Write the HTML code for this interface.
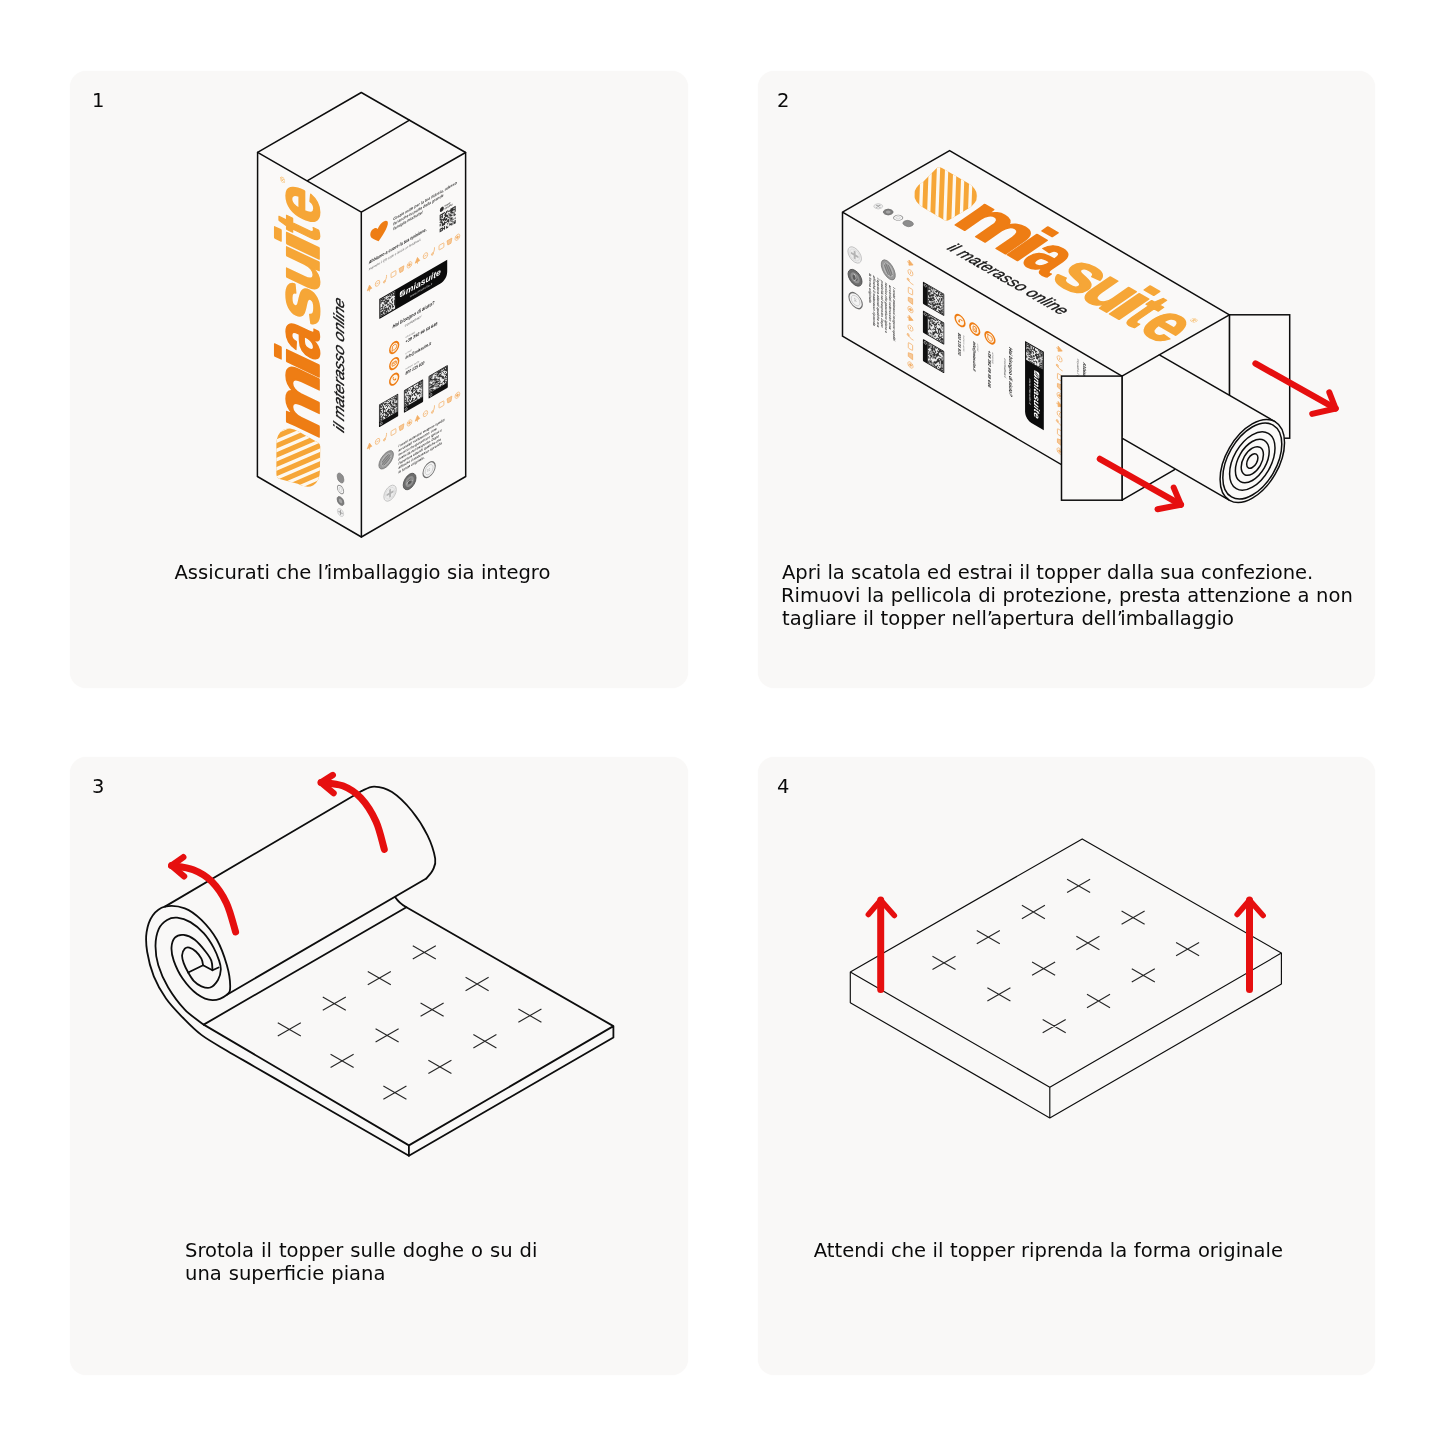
<!DOCTYPE html>
<html lang="it">
<head>
<meta charset="utf-8">
<title>Istruzioni topper</title>
<style>
html,body{margin:0;padding:0;background:#fff;}
body{will-change:transform;width:1445px;height:1445px;position:relative;overflow:hidden;font-family:"DejaVu Sans","Liberation Sans",sans-serif;color:#0a0a0a;}
.panel{position:absolute;width:617.5px;height:617.5px;background:#f9f8f7;border-radius:16px;box-shadow:0 0 1.5px 0 rgba(249,248,247,1);}
#p1{left:70px;top:70.5px;}
#p2{left:757.5px;top:70.5px;}
#p3{left:70px;top:757px;}
#p4{left:757.5px;top:757px;}
.num{position:absolute;font-size:19.5px;line-height:24px;}
.cap{position:absolute;font-size:19.55px;line-height:23.15px;white-space:nowrap;}
.ap{letter-spacing:-2.7px;}
svg#art{position:absolute;left:0;top:0;width:1445px;height:1445px;}
</style>
</head>
<body>
<div class="panel" id="p1"></div>
<div class="panel" id="p2"></div>
<div class="panel" id="p3"></div>
<div class="panel" id="p4"></div>

<div class="num" id="n1" style="left:92px;top:88.5px;">1</div>
<div class="num" id="n2" style="left:777px;top:88.5px;">2</div>
<div class="num" id="n3" style="left:92px;top:774.5px;">3</div>
<div class="num" id="n4" style="left:777px;top:774.5px;">4</div>

<div class="cap" id="c1" style="left:174.5px;top:560.5px;word-spacing:0.2px;">Assicurati che l<span class="ap">’</span>imballaggio sia integro</div>
<div class="cap" id="c2" style="left:782px;top:560.5px;">Apri la scatola ed estrai il topper dalla sua confezione.<br><span style="word-spacing:0.34px;margin-left:-1px">Rimuovi la pellicola di protezione, presta attenzione a non</span><br><span style="word-spacing:0.4px">tagliare il topper nell<span class="ap">’</span>apertura dell<span class="ap">’</span>imballaggio</span></div>
<div class="cap" id="c3" style="left:185px;top:1238.5px;word-spacing:0.83px;">Srotola il topper sulle doghe o su di<br>una superficie piana</div>
<div class="cap" id="c4" style="left:813.8px;top:1238.5px;word-spacing:0.36px;">Attendi che il topper riprenda la forma originale</div>

<svg id="art" viewBox="0 0 1445 1445">
<g id="box1">
<polygon points="361.3,92.5 465.6,152.5 465.7,476.5 361.4,537 257.4,476.5 257.6,152.3" fill="#faf9f8"/>
<g transform="matrix(0 -1 0.866 0.5 257.4 476.5)"><clipPath id="ic1"><path d="M13.6 21.9L43 21.9A25.8 25.8 0 0 1 68.8 47.5L69 69.6Q69.1 72.6 66.2 72.6L42 72.2A26 26 0 0 1 16 46.5L10.2 25.6Q9.5 21.9 13.6 21.9Z"/></clipPath><path d="M13.6 21.9L43 21.9A25.8 25.8 0 0 1 68.8 47.5L69 69.6Q69.1 72.6 66.2 72.6L42 72.2A26 26 0 0 1 16 46.5L10.2 25.6Q9.5 21.9 13.6 21.9Z" fill="#f6a637"/><path d="M-52.29 15L4.39 80M-43.04 15L13.64 80M-33.79 15L22.89 80M-24.54 15L32.14 80M-15.29 15L41.39 80M-6.04 15L50.64 80M3.21 15L59.89 80M12.46 15L69.14 80M21.71 15L78.39 80M30.96 15L87.64 80M40.21 15L96.89 80M49.46 15L106.14 80M58.71 15L115.39 80M67.96 15L124.64 80" stroke="#fdf8ef" stroke-width="2.7" fill="none" clip-path="url(#ic1)"/><g transform="translate(0 70.8) skewX(5.1)"><text y="0" font-family="Liberation Sans, Arial, sans-serif" font-weight="700" font-size="70.5" stroke-width="1.9" stroke-linejoin="round"><tspan x="69.8" textLength="67.6" lengthAdjust="spacingAndGlyphs" fill="#ee7d14" stroke="#ee7d14">m</tspan><tspan x="129.7" textLength="22.7" lengthAdjust="spacingAndGlyphs" fill="#ee7d14" stroke="#ee7d14">i</tspan><tspan x="148.7" textLength="31.2" lengthAdjust="spacingAndGlyphs" fill="#ee7d14" stroke="#ee7d14">a</tspan><tspan x="182.5" textLength="37.5" lengthAdjust="spacingAndGlyphs" fill="#f6a637" stroke="#f6a637">s</tspan><tspan x="215.9" textLength="38" lengthAdjust="spacingAndGlyphs" fill="#f6a637" stroke="#f6a637">u</tspan><tspan x="247.9" textLength="21.3" lengthAdjust="spacingAndGlyphs" fill="#f6a637" stroke="#f6a637">i</tspan><tspan x="266.7" textLength="15.4" lengthAdjust="spacingAndGlyphs" fill="#f6a637" stroke="#f6a637">t</tspan><tspan x="283.5" textLength="32.7" lengthAdjust="spacingAndGlyphs" fill="#f6a637" stroke="#f6a637">e</tspan></text></g><text x="308" y="31.5" font-family="Liberation Sans, sans-serif" font-size="8" fill="#f6a637">®</text><g transform="translate(93.3 100.3) skewX(4)"><text x="0" y="0" font-family="Liberation Sans, Arial, sans-serif" font-style="italic" font-size="17.3" fill="#161616" stroke="#161616" stroke-width="0.35" textLength="133" lengthAdjust="spacingAndGlyphs">il materasso online</text></g><g stroke-width="0.6" transform="translate(0 0)"><circle cx="12" cy="96" r="3.6" fill="#ededed" stroke="#bdbdbd"/><path d="M9.6 96h4.8M12 93.6v4.8" stroke="#9a9a9a" stroke-width="1"/><circle cx="23.5" cy="96" r="4" fill="#7d7d7d" stroke="#666"/><circle cx="23.5" cy="96" r="2" fill="#a5a5a5" stroke="none"/><circle cx="35" cy="96" r="3.7" fill="#f6f6f6" stroke="#8f8f8f" stroke-width="0.9"/><circle cx="35" cy="96" r="1.7" fill="none" stroke="#bbb" stroke-width="0.5"/><ellipse cx="46.5" cy="96" rx="4.6" ry="3.9" fill="#8d8d8d" stroke="#777"/></g></g>
<g transform="matrix(0.866 -0.5 0 1 361.3 212.2)"><path d="M20 39C14 34 9.5 30.5 10.5 26.5C11.5 22.8 16.5 22.6 19 26.2C21 22 27.8 20.6 30.2 24.2C32.6 28.4 26.5 34.5 20 39Z" fill="#ee7d14"/><text font-family="Liberation Sans, Arial, sans-serif" font-style="italic" font-size="4.1" font-weight="700" fill="#3c3c3c"><tspan x="37" y="26.8" textLength="73.5" lengthAdjust="spacingAndGlyphs">Grazie mille per la tua fiducia, adesso</tspan><tspan x="37" y="31.7" textLength="58" lengthAdjust="spacingAndGlyphs">fai anche tu parte della grande</tspan><tspan x="37" y="36.6" textLength="34" lengthAdjust="spacingAndGlyphs">famiglia miaSuite!</tspan></text><circle cx="93" cy="43.6" r="2.3" fill="#2b2b2b"/><text x="96.2" y="43" font-family="Liberation Sans, Arial, sans-serif" font-size="2.4" font-weight="700" fill="#2b2b2b">SHOP</text><text x="96.2" y="45.6" font-family="Liberation Sans, Arial, sans-serif" font-size="2.4" font-weight="700" fill="#2b2b2b">SICURO</text><rect x="90.5" y="48" width="18.5" height="17.5" fill="#ececec"/><path d="M90.5 48h1.23v1.17h-1.23zM91.73 48h1.23v1.17h-1.23zM92.97 48h1.23v1.17h-1.23zM94.2 48h1.23v1.17h-1.23zM95.43 48h1.23v1.17h-1.23zM97.9 48h1.23v1.17h-1.23zM99.13 48h1.23v1.17h-1.23zM102.83 48h1.23v1.17h-1.23zM104.07 48h1.23v1.17h-1.23zM105.3 48h1.23v1.17h-1.23zM106.53 48h1.23v1.17h-1.23zM107.77 48h1.23v1.17h-1.23zM90.5 49.17h1.23v1.17h-1.23zM92.97 49.17h1.23v1.17h-1.23zM96.67 49.17h1.23v1.17h-1.23zM97.9 49.17h1.23v1.17h-1.23zM100.37 49.17h1.23v1.17h-1.23zM101.6 49.17h1.23v1.17h-1.23zM102.83 49.17h1.23v1.17h-1.23zM104.07 49.17h1.23v1.17h-1.23zM105.3 49.17h1.23v1.17h-1.23zM107.77 49.17h1.23v1.17h-1.23zM90.5 50.33h1.23v1.17h-1.23zM91.73 50.33h1.23v1.17h-1.23zM92.97 50.33h1.23v1.17h-1.23zM95.43 50.33h1.23v1.17h-1.23zM96.67 50.33h1.23v1.17h-1.23zM102.83 50.33h1.23v1.17h-1.23zM104.07 50.33h1.23v1.17h-1.23zM105.3 50.33h1.23v1.17h-1.23zM106.53 50.33h1.23v1.17h-1.23zM107.77 50.33h1.23v1.17h-1.23zM90.5 51.5h1.23v1.17h-1.23zM92.97 51.5h1.23v1.17h-1.23zM96.67 51.5h1.23v1.17h-1.23zM97.9 51.5h1.23v1.17h-1.23zM100.37 51.5h1.23v1.17h-1.23zM102.83 51.5h1.23v1.17h-1.23zM104.07 51.5h1.23v1.17h-1.23zM107.77 51.5h1.23v1.17h-1.23zM90.5 52.67h1.23v1.17h-1.23zM91.73 52.67h1.23v1.17h-1.23zM95.43 52.67h1.23v1.17h-1.23zM96.67 52.67h1.23v1.17h-1.23zM97.9 52.67h1.23v1.17h-1.23zM99.13 52.67h1.23v1.17h-1.23zM101.6 52.67h1.23v1.17h-1.23zM104.07 52.67h1.23v1.17h-1.23zM105.3 52.67h1.23v1.17h-1.23zM107.77 52.67h1.23v1.17h-1.23zM91.73 53.83h1.23v1.17h-1.23zM92.97 53.83h1.23v1.17h-1.23zM94.2 53.83h1.23v1.17h-1.23zM95.43 53.83h1.23v1.17h-1.23zM99.13 53.83h1.23v1.17h-1.23zM101.6 53.83h1.23v1.17h-1.23zM102.83 53.83h1.23v1.17h-1.23zM106.53 53.83h1.23v1.17h-1.23zM90.5 55h1.23v1.17h-1.23zM91.73 55h1.23v1.17h-1.23zM94.2 55h1.23v1.17h-1.23zM95.43 55h1.23v1.17h-1.23zM96.67 55h1.23v1.17h-1.23zM97.9 55h1.23v1.17h-1.23zM100.37 55h1.23v1.17h-1.23zM102.83 55h1.23v1.17h-1.23zM104.07 55h1.23v1.17h-1.23zM106.53 55h1.23v1.17h-1.23zM91.73 56.17h1.23v1.17h-1.23zM92.97 56.17h1.23v1.17h-1.23zM96.67 56.17h1.23v1.17h-1.23zM97.9 56.17h1.23v1.17h-1.23zM101.6 56.17h1.23v1.17h-1.23zM106.53 56.17h1.23v1.17h-1.23zM107.77 56.17h1.23v1.17h-1.23zM90.5 57.33h1.23v1.17h-1.23zM92.97 57.33h1.23v1.17h-1.23zM95.43 57.33h1.23v1.17h-1.23zM99.13 57.33h1.23v1.17h-1.23zM100.37 57.33h1.23v1.17h-1.23zM102.83 57.33h1.23v1.17h-1.23zM104.07 57.33h1.23v1.17h-1.23zM90.5 58.5h1.23v1.17h-1.23zM92.97 58.5h1.23v1.17h-1.23zM94.2 58.5h1.23v1.17h-1.23zM95.43 58.5h1.23v1.17h-1.23zM96.67 58.5h1.23v1.17h-1.23zM97.9 58.5h1.23v1.17h-1.23zM99.13 58.5h1.23v1.17h-1.23zM100.37 58.5h1.23v1.17h-1.23zM102.83 58.5h1.23v1.17h-1.23zM104.07 58.5h1.23v1.17h-1.23zM92.97 59.67h1.23v1.17h-1.23zM94.2 59.67h1.23v1.17h-1.23zM95.43 59.67h1.23v1.17h-1.23zM100.37 59.67h1.23v1.17h-1.23zM102.83 59.67h1.23v1.17h-1.23zM105.3 59.67h1.23v1.17h-1.23zM107.77 59.67h1.23v1.17h-1.23zM99.13 60.83h1.23v1.17h-1.23zM104.07 60.83h1.23v1.17h-1.23zM90.5 62h1.23v1.17h-1.23zM91.73 62h1.23v1.17h-1.23zM92.97 62h1.23v1.17h-1.23zM95.43 62h1.23v1.17h-1.23zM101.6 62h1.23v1.17h-1.23zM105.3 62h1.23v1.17h-1.23zM107.77 62h1.23v1.17h-1.23zM90.5 63.17h1.23v1.17h-1.23zM92.97 63.17h1.23v1.17h-1.23zM94.2 63.17h1.23v1.17h-1.23zM95.43 63.17h1.23v1.17h-1.23zM97.9 63.17h1.23v1.17h-1.23zM101.6 63.17h1.23v1.17h-1.23zM102.83 63.17h1.23v1.17h-1.23zM104.07 63.17h1.23v1.17h-1.23zM106.53 63.17h1.23v1.17h-1.23zM107.77 63.17h1.23v1.17h-1.23zM90.5 64.33h1.23v1.17h-1.23zM91.73 64.33h1.23v1.17h-1.23zM92.97 64.33h1.23v1.17h-1.23zM95.43 64.33h1.23v1.17h-1.23zM97.9 64.33h1.23v1.17h-1.23zM99.13 64.33h1.23v1.17h-1.23zM104.07 64.33h1.23v1.17h-1.23zM106.53 64.33h1.23v1.17h-1.23zM107.77 64.33h1.23v1.17h-1.23z" fill="#303030"/><text x="8.5" y="56.2" font-family="Liberation Sans, Arial, sans-serif" font-weight="700" font-style="italic" font-size="4.6" fill="#222" textLength="67" lengthAdjust="spacingAndGlyphs">Abbiamo a cuore la tua opinione.</text><text x="8.5" y="62.6" font-family="Liberation Sans, Arial, sans-serif" font-style="italic" font-size="3.2" fill="#555" textLength="60" lengthAdjust="spacingAndGlyphs">Inquadra il QR code e lascia un feedback</text><g fill="none" stroke="#f2a14b" stroke-width="0.7" opacity="0.85"><path d="M6.9 82.1l2.6 -4.4l2.6 4.4zM9.5 82.1v2" fill="#f2a14b"/><circle cx="18.73" cy="80.5" r="2.6"/><path d="M17.53 80.5h2.4"/><path d="M25.95 83.5c2.5 -1 3.5 -4 3.2 -6.2"/><circle cx="26.75" cy="82.9" r="1.1"/><rect x="34.38" y="78.2" width="5.6" height="4.6" rx="0.6"/><path d="M43.61 78.2h5.6l-1 4.6h-3.6z" fill="#f6c088"/><circle cx="55.64" cy="80.5" r="2.7"/><circle cx="55.64" cy="80.5" r="1.1" fill="#f2a14b"/><path d="M62.26 82.1l2.6 -4.4l2.6 4.4zM64.86 82.1v2" fill="#f2a14b"/><circle cx="74.09" cy="80.5" r="2.6"/><path d="M72.89 80.5h2.4"/><path d="M81.32 83.5c2.5 -1 3.5 -4 3.2 -6.2"/><circle cx="82.12" cy="82.9" r="1.1"/><rect x="89.75" y="78.2" width="5.6" height="4.6" rx="0.6"/><path d="M98.97 78.2h5.6l-1 4.6h-3.6z" fill="#f6c088"/><circle cx="111" cy="80.5" r="2.7"/><circle cx="111" cy="80.5" r="1.1" fill="#f2a14b"/></g><path d="M20.8 97.2H99.2V109C99.2 114 96 117.1 91 117.1H20.8Z" fill="#0b0b0b"/><rect x="22" y="98.4" width="17" height="17.5" fill="#ececec"/><path d="M22 98.4h1.13v1.17h-1.13zM23.13 98.4h1.13v1.17h-1.13zM24.27 98.4h1.13v1.17h-1.13zM25.4 98.4h1.13v1.17h-1.13zM27.67 98.4h1.13v1.17h-1.13zM29.93 98.4h1.13v1.17h-1.13zM31.07 98.4h1.13v1.17h-1.13zM32.2 98.4h1.13v1.17h-1.13zM33.33 98.4h1.13v1.17h-1.13zM34.47 98.4h1.13v1.17h-1.13zM35.6 98.4h1.13v1.17h-1.13zM36.73 98.4h1.13v1.17h-1.13zM37.87 98.4h1.13v1.17h-1.13zM22 99.57h1.13v1.17h-1.13zM24.27 99.57h1.13v1.17h-1.13zM25.4 99.57h1.13v1.17h-1.13zM26.53 99.57h1.13v1.17h-1.13zM33.33 99.57h1.13v1.17h-1.13zM35.6 99.57h1.13v1.17h-1.13zM37.87 99.57h1.13v1.17h-1.13zM22 100.73h1.13v1.17h-1.13zM23.13 100.73h1.13v1.17h-1.13zM24.27 100.73h1.13v1.17h-1.13zM27.67 100.73h1.13v1.17h-1.13zM29.93 100.73h1.13v1.17h-1.13zM31.07 100.73h1.13v1.17h-1.13zM32.2 100.73h1.13v1.17h-1.13zM34.47 100.73h1.13v1.17h-1.13zM35.6 100.73h1.13v1.17h-1.13zM36.73 100.73h1.13v1.17h-1.13zM37.87 100.73h1.13v1.17h-1.13zM22 101.9h1.13v1.17h-1.13zM25.4 101.9h1.13v1.17h-1.13zM26.53 101.9h1.13v1.17h-1.13zM27.67 101.9h1.13v1.17h-1.13zM28.8 101.9h1.13v1.17h-1.13zM32.2 101.9h1.13v1.17h-1.13zM33.33 101.9h1.13v1.17h-1.13zM37.87 101.9h1.13v1.17h-1.13zM26.53 103.07h1.13v1.17h-1.13zM28.8 103.07h1.13v1.17h-1.13zM29.93 103.07h1.13v1.17h-1.13zM31.07 103.07h1.13v1.17h-1.13zM24.27 104.23h1.13v1.17h-1.13zM26.53 104.23h1.13v1.17h-1.13zM27.67 104.23h1.13v1.17h-1.13zM28.8 104.23h1.13v1.17h-1.13zM29.93 104.23h1.13v1.17h-1.13zM31.07 104.23h1.13v1.17h-1.13zM34.47 104.23h1.13v1.17h-1.13zM35.6 104.23h1.13v1.17h-1.13zM37.87 104.23h1.13v1.17h-1.13zM24.27 105.4h1.13v1.17h-1.13zM25.4 105.4h1.13v1.17h-1.13zM27.67 105.4h1.13v1.17h-1.13zM28.8 105.4h1.13v1.17h-1.13zM34.47 105.4h1.13v1.17h-1.13zM22 106.57h1.13v1.17h-1.13zM23.13 106.57h1.13v1.17h-1.13zM24.27 106.57h1.13v1.17h-1.13zM29.93 106.57h1.13v1.17h-1.13zM32.2 106.57h1.13v1.17h-1.13zM35.6 106.57h1.13v1.17h-1.13zM37.87 106.57h1.13v1.17h-1.13zM24.27 107.73h1.13v1.17h-1.13zM26.53 107.73h1.13v1.17h-1.13zM27.67 107.73h1.13v1.17h-1.13zM29.93 107.73h1.13v1.17h-1.13zM31.07 107.73h1.13v1.17h-1.13zM33.33 107.73h1.13v1.17h-1.13zM35.6 107.73h1.13v1.17h-1.13zM37.87 107.73h1.13v1.17h-1.13zM22 108.9h1.13v1.17h-1.13zM23.13 108.9h1.13v1.17h-1.13zM24.27 108.9h1.13v1.17h-1.13zM26.53 108.9h1.13v1.17h-1.13zM32.2 108.9h1.13v1.17h-1.13zM34.47 108.9h1.13v1.17h-1.13zM37.87 108.9h1.13v1.17h-1.13zM25.4 110.07h1.13v1.17h-1.13zM26.53 110.07h1.13v1.17h-1.13zM27.67 110.07h1.13v1.17h-1.13zM28.8 110.07h1.13v1.17h-1.13zM31.07 110.07h1.13v1.17h-1.13zM32.2 110.07h1.13v1.17h-1.13zM33.33 110.07h1.13v1.17h-1.13zM35.6 110.07h1.13v1.17h-1.13zM37.87 110.07h1.13v1.17h-1.13zM22 111.23h1.13v1.17h-1.13zM23.13 111.23h1.13v1.17h-1.13zM24.27 111.23h1.13v1.17h-1.13zM25.4 111.23h1.13v1.17h-1.13zM27.67 111.23h1.13v1.17h-1.13zM28.8 111.23h1.13v1.17h-1.13zM29.93 111.23h1.13v1.17h-1.13zM31.07 111.23h1.13v1.17h-1.13zM33.33 111.23h1.13v1.17h-1.13zM35.6 111.23h1.13v1.17h-1.13zM37.87 111.23h1.13v1.17h-1.13zM22 112.4h1.13v1.17h-1.13zM23.13 112.4h1.13v1.17h-1.13zM24.27 112.4h1.13v1.17h-1.13zM26.53 112.4h1.13v1.17h-1.13zM27.67 112.4h1.13v1.17h-1.13zM28.8 112.4h1.13v1.17h-1.13zM31.07 112.4h1.13v1.17h-1.13zM33.33 112.4h1.13v1.17h-1.13zM35.6 112.4h1.13v1.17h-1.13zM36.73 112.4h1.13v1.17h-1.13zM22 113.57h1.13v1.17h-1.13zM24.27 113.57h1.13v1.17h-1.13zM26.53 113.57h1.13v1.17h-1.13zM27.67 113.57h1.13v1.17h-1.13zM29.93 113.57h1.13v1.17h-1.13zM32.2 113.57h1.13v1.17h-1.13zM22 114.73h1.13v1.17h-1.13zM23.13 114.73h1.13v1.17h-1.13zM24.27 114.73h1.13v1.17h-1.13zM25.4 114.73h1.13v1.17h-1.13zM27.67 114.73h1.13v1.17h-1.13zM28.8 114.73h1.13v1.17h-1.13zM29.93 114.73h1.13v1.17h-1.13zM34.47 114.73h1.13v1.17h-1.13zM35.6 114.73h1.13v1.17h-1.13z" fill="#303030"/><rect x="44.5" y="102" width="6.2" height="5.6" rx="1.6" fill="#fff"/><path d="M45.5 106.5l3-4M47.2 107.2l3-4.4" stroke="#0b0b0b" stroke-width="0.6"/><text x="51.4" y="108" font-family="Liberation Sans, Arial, sans-serif" font-weight="700" font-style="italic" font-size="8.6" fill="#fff" textLength="40.5" lengthAdjust="spacingAndGlyphs">miasuite</text><text x="56" y="113.4" font-family="Liberation Sans, Arial, sans-serif" font-style="italic" font-size="3" fill="#d8d8d8" textLength="26" lengthAdjust="spacingAndGlyphs">www.miasuite.it</text><text x="36" y="134.2" font-family="Liberation Sans, Arial, sans-serif" font-weight="700" font-style="italic" font-size="5.1" fill="#222" textLength="48.5" lengthAdjust="spacingAndGlyphs">Hai bisogno di aiuto?</text><text x="50.3" y="139.8" font-family="Liberation Sans, Arial, sans-serif" font-style="italic" font-size="3.4" fill="#555" textLength="19" lengthAdjust="spacingAndGlyphs">contattaci</text><circle cx="38" cy="154.3" r="5.1" fill="#fdf3e6" stroke="#ee7d14" stroke-width="1.7"/><path d="M35.8 154.9a2.6 2.6 0 1 1 1.2 1.5l-1.6 .5z" fill="none" stroke="#ee7d14" stroke-width="0.8"/><text x="51" y="151.6" font-family="Liberation Sans, Arial, sans-serif" font-style="italic" font-size="2.6" fill="#777">whatsapp</text><text x="51" y="156.5" font-family="Liberation Sans, Arial, sans-serif" font-weight="700" font-style="italic" font-size="4.3" fill="#222" textLength="37" lengthAdjust="spacingAndGlyphs">+39 392 99 59 646</text><circle cx="38" cy="170.4" r="5.1" fill="#fdf3e6" stroke="#ee7d14" stroke-width="1.7"/><rect x="35.6" y="168.7" width="4.8" height="3.4" rx="0.5" fill="none" stroke="#ee7d14" stroke-width="0.8"/><path d="M35.8 169l2.2 1.7l2.2 -1.7" fill="none" stroke="#ee7d14" stroke-width="0.6"/><text x="51" y="167.7" font-family="Liberation Sans, Arial, sans-serif" font-style="italic" font-size="2.6" fill="#777">e-mail</text><text x="51" y="172.6" font-family="Liberation Sans, Arial, sans-serif" font-weight="700" font-style="italic" font-size="4.3" fill="#222" textLength="29.5" lengthAdjust="spacingAndGlyphs">info@miasuite.it</text><circle cx="38" cy="186" r="5.1" fill="#fdf3e6" stroke="#ee7d14" stroke-width="1.7"/><path d="M36.2 183.7c0 2.6 1.6 4 3.8 4.2l.4 -1.3l-1.3 -.7l-.7 .6c-.7 -.3 -1.2 -.9 -1.4 -1.6l.6 -.6l-.5 -1.3z" fill="#ee7d14"/><text x="51" y="183.3" font-family="Liberation Sans, Arial, sans-serif" font-style="italic" font-size="2.6" fill="#777">numero verde</text><text x="51" y="188.2" font-family="Liberation Sans, Arial, sans-serif" font-weight="700" font-style="italic" font-size="4.3" fill="#222" textLength="22" lengthAdjust="spacingAndGlyphs">800 135 930</text><rect x="20.4" y="202.7" width="22.2" height="22.6" rx="0.8" fill="#111"/><rect x="21.3" y="203.5" width="20.4" height="16.6" fill="#ececec"/><path d="M21.3 203.5h1.2v0.98h-1.2zM22.5 203.5h1.2v0.98h-1.2zM23.7 203.5h1.2v0.98h-1.2zM24.9 203.5h1.2v0.98h-1.2zM28.5 203.5h1.2v0.98h-1.2zM29.7 203.5h1.2v0.98h-1.2zM32.1 203.5h1.2v0.98h-1.2zM33.3 203.5h1.2v0.98h-1.2zM35.7 203.5h1.2v0.98h-1.2zM38.1 203.5h1.2v0.98h-1.2zM39.3 203.5h1.2v0.98h-1.2zM40.5 203.5h1.2v0.98h-1.2zM21.3 204.48h1.2v0.98h-1.2zM23.7 204.48h1.2v0.98h-1.2zM26.1 204.48h1.2v0.98h-1.2zM27.3 204.48h1.2v0.98h-1.2zM30.9 204.48h1.2v0.98h-1.2zM34.5 204.48h1.2v0.98h-1.2zM36.9 204.48h1.2v0.98h-1.2zM38.1 204.48h1.2v0.98h-1.2zM40.5 204.48h1.2v0.98h-1.2zM21.3 205.45h1.2v0.98h-1.2zM22.5 205.45h1.2v0.98h-1.2zM23.7 205.45h1.2v0.98h-1.2zM26.1 205.45h1.2v0.98h-1.2zM27.3 205.45h1.2v0.98h-1.2zM28.5 205.45h1.2v0.98h-1.2zM33.3 205.45h1.2v0.98h-1.2zM35.7 205.45h1.2v0.98h-1.2zM38.1 205.45h1.2v0.98h-1.2zM39.3 205.45h1.2v0.98h-1.2zM40.5 205.45h1.2v0.98h-1.2zM22.5 206.43h1.2v0.98h-1.2zM24.9 206.43h1.2v0.98h-1.2zM29.7 206.43h1.2v0.98h-1.2zM30.9 206.43h1.2v0.98h-1.2zM32.1 206.43h1.2v0.98h-1.2zM33.3 206.43h1.2v0.98h-1.2zM36.9 206.43h1.2v0.98h-1.2zM39.3 206.43h1.2v0.98h-1.2zM40.5 206.43h1.2v0.98h-1.2zM21.3 207.41h1.2v0.98h-1.2zM24.9 207.41h1.2v0.98h-1.2zM27.3 207.41h1.2v0.98h-1.2zM28.5 207.41h1.2v0.98h-1.2zM32.1 207.41h1.2v0.98h-1.2zM33.3 207.41h1.2v0.98h-1.2zM35.7 207.41h1.2v0.98h-1.2zM36.9 207.41h1.2v0.98h-1.2zM39.3 207.41h1.2v0.98h-1.2zM40.5 207.41h1.2v0.98h-1.2zM21.3 208.38h1.2v0.98h-1.2zM22.5 208.38h1.2v0.98h-1.2zM23.7 208.38h1.2v0.98h-1.2zM24.9 208.38h1.2v0.98h-1.2zM29.7 208.38h1.2v0.98h-1.2zM30.9 208.38h1.2v0.98h-1.2zM33.3 208.38h1.2v0.98h-1.2zM35.7 208.38h1.2v0.98h-1.2zM36.9 208.38h1.2v0.98h-1.2zM39.3 208.38h1.2v0.98h-1.2zM21.3 209.36h1.2v0.98h-1.2zM24.9 209.36h1.2v0.98h-1.2zM26.1 209.36h1.2v0.98h-1.2zM29.7 209.36h1.2v0.98h-1.2zM33.3 209.36h1.2v0.98h-1.2zM34.5 209.36h1.2v0.98h-1.2zM36.9 209.36h1.2v0.98h-1.2zM21.3 210.34h1.2v0.98h-1.2zM22.5 210.34h1.2v0.98h-1.2zM24.9 210.34h1.2v0.98h-1.2zM26.1 210.34h1.2v0.98h-1.2zM28.5 210.34h1.2v0.98h-1.2zM32.1 210.34h1.2v0.98h-1.2zM34.5 210.34h1.2v0.98h-1.2zM36.9 210.34h1.2v0.98h-1.2zM38.1 210.34h1.2v0.98h-1.2zM39.3 210.34h1.2v0.98h-1.2zM22.5 211.31h1.2v0.98h-1.2zM24.9 211.31h1.2v0.98h-1.2zM27.3 211.31h1.2v0.98h-1.2zM34.5 211.31h1.2v0.98h-1.2zM35.7 211.31h1.2v0.98h-1.2zM39.3 211.31h1.2v0.98h-1.2zM40.5 211.31h1.2v0.98h-1.2zM21.3 212.29h1.2v0.98h-1.2zM24.9 212.29h1.2v0.98h-1.2zM30.9 212.29h1.2v0.98h-1.2zM33.3 212.29h1.2v0.98h-1.2zM35.7 212.29h1.2v0.98h-1.2zM36.9 212.29h1.2v0.98h-1.2zM39.3 212.29h1.2v0.98h-1.2zM40.5 212.29h1.2v0.98h-1.2zM23.7 213.26h1.2v0.98h-1.2zM24.9 213.26h1.2v0.98h-1.2zM26.1 213.26h1.2v0.98h-1.2zM27.3 213.26h1.2v0.98h-1.2zM29.7 213.26h1.2v0.98h-1.2zM30.9 213.26h1.2v0.98h-1.2zM32.1 213.26h1.2v0.98h-1.2zM34.5 213.26h1.2v0.98h-1.2zM36.9 213.26h1.2v0.98h-1.2zM38.1 213.26h1.2v0.98h-1.2zM40.5 213.26h1.2v0.98h-1.2zM21.3 214.24h1.2v0.98h-1.2zM22.5 214.24h1.2v0.98h-1.2zM27.3 214.24h1.2v0.98h-1.2zM28.5 214.24h1.2v0.98h-1.2zM29.7 214.24h1.2v0.98h-1.2zM30.9 214.24h1.2v0.98h-1.2zM33.3 214.24h1.2v0.98h-1.2zM35.7 214.24h1.2v0.98h-1.2zM36.9 214.24h1.2v0.98h-1.2zM38.1 214.24h1.2v0.98h-1.2zM39.3 214.24h1.2v0.98h-1.2zM40.5 214.24h1.2v0.98h-1.2zM21.3 215.22h1.2v0.98h-1.2zM24.9 215.22h1.2v0.98h-1.2zM27.3 215.22h1.2v0.98h-1.2zM28.5 215.22h1.2v0.98h-1.2zM30.9 215.22h1.2v0.98h-1.2zM32.1 215.22h1.2v0.98h-1.2zM33.3 215.22h1.2v0.98h-1.2zM35.7 215.22h1.2v0.98h-1.2zM36.9 215.22h1.2v0.98h-1.2zM21.3 216.19h1.2v0.98h-1.2zM23.7 216.19h1.2v0.98h-1.2zM24.9 216.19h1.2v0.98h-1.2zM28.5 216.19h1.2v0.98h-1.2zM29.7 216.19h1.2v0.98h-1.2zM32.1 216.19h1.2v0.98h-1.2zM33.3 216.19h1.2v0.98h-1.2zM34.5 216.19h1.2v0.98h-1.2zM38.1 216.19h1.2v0.98h-1.2zM40.5 216.19h1.2v0.98h-1.2zM21.3 217.17h1.2v0.98h-1.2zM22.5 217.17h1.2v0.98h-1.2zM23.7 217.17h1.2v0.98h-1.2zM26.1 217.17h1.2v0.98h-1.2zM27.3 217.17h1.2v0.98h-1.2zM29.7 217.17h1.2v0.98h-1.2zM30.9 217.17h1.2v0.98h-1.2zM32.1 217.17h1.2v0.98h-1.2zM33.3 217.17h1.2v0.98h-1.2zM34.5 217.17h1.2v0.98h-1.2zM36.9 217.17h1.2v0.98h-1.2zM38.1 217.17h1.2v0.98h-1.2zM40.5 217.17h1.2v0.98h-1.2zM21.3 218.15h1.2v0.98h-1.2zM23.7 218.15h1.2v0.98h-1.2zM27.3 218.15h1.2v0.98h-1.2zM28.5 218.15h1.2v0.98h-1.2zM29.7 218.15h1.2v0.98h-1.2zM30.9 218.15h1.2v0.98h-1.2zM33.3 218.15h1.2v0.98h-1.2zM34.5 218.15h1.2v0.98h-1.2zM38.1 218.15h1.2v0.98h-1.2zM40.5 218.15h1.2v0.98h-1.2zM21.3 219.12h1.2v0.98h-1.2zM22.5 219.12h1.2v0.98h-1.2zM23.7 219.12h1.2v0.98h-1.2zM24.9 219.12h1.2v0.98h-1.2zM27.3 219.12h1.2v0.98h-1.2zM28.5 219.12h1.2v0.98h-1.2zM29.7 219.12h1.2v0.98h-1.2zM33.3 219.12h1.2v0.98h-1.2zM35.7 219.12h1.2v0.98h-1.2zM36.9 219.12h1.2v0.98h-1.2zM38.1 219.12h1.2v0.98h-1.2zM40.5 219.12h1.2v0.98h-1.2z" fill="#303030"/><circle cx="23" cy="222.8" r="1.25" fill="none" stroke="#eee" stroke-width="0.5"/><rect x="49.2" y="202.7" width="22.2" height="22.6" rx="0.8" fill="#111"/><rect x="50.1" y="203.5" width="20.4" height="16.6" fill="#ececec"/><path d="M50.1 203.5h1.2v0.98h-1.2zM51.3 203.5h1.2v0.98h-1.2zM52.5 203.5h1.2v0.98h-1.2zM58.5 203.5h1.2v0.98h-1.2zM65.7 203.5h1.2v0.98h-1.2zM66.9 203.5h1.2v0.98h-1.2zM68.1 203.5h1.2v0.98h-1.2zM69.3 203.5h1.2v0.98h-1.2zM50.1 204.48h1.2v0.98h-1.2zM52.5 204.48h1.2v0.98h-1.2zM53.7 204.48h1.2v0.98h-1.2zM56.1 204.48h1.2v0.98h-1.2zM59.7 204.48h1.2v0.98h-1.2zM63.3 204.48h1.2v0.98h-1.2zM65.7 204.48h1.2v0.98h-1.2zM66.9 204.48h1.2v0.98h-1.2zM69.3 204.48h1.2v0.98h-1.2zM50.1 205.45h1.2v0.98h-1.2zM51.3 205.45h1.2v0.98h-1.2zM52.5 205.45h1.2v0.98h-1.2zM54.9 205.45h1.2v0.98h-1.2zM58.5 205.45h1.2v0.98h-1.2zM59.7 205.45h1.2v0.98h-1.2zM62.1 205.45h1.2v0.98h-1.2zM64.5 205.45h1.2v0.98h-1.2zM65.7 205.45h1.2v0.98h-1.2zM66.9 205.45h1.2v0.98h-1.2zM68.1 205.45h1.2v0.98h-1.2zM69.3 205.45h1.2v0.98h-1.2zM51.3 206.43h1.2v0.98h-1.2zM57.3 206.43h1.2v0.98h-1.2zM58.5 206.43h1.2v0.98h-1.2zM59.7 206.43h1.2v0.98h-1.2zM60.9 206.43h1.2v0.98h-1.2zM65.7 206.43h1.2v0.98h-1.2zM68.1 206.43h1.2v0.98h-1.2zM53.7 207.41h1.2v0.98h-1.2zM57.3 207.41h1.2v0.98h-1.2zM58.5 207.41h1.2v0.98h-1.2zM62.1 207.41h1.2v0.98h-1.2zM63.3 207.41h1.2v0.98h-1.2zM65.7 207.41h1.2v0.98h-1.2zM66.9 207.41h1.2v0.98h-1.2zM69.3 207.41h1.2v0.98h-1.2zM51.3 208.38h1.2v0.98h-1.2zM53.7 208.38h1.2v0.98h-1.2zM58.5 208.38h1.2v0.98h-1.2zM59.7 208.38h1.2v0.98h-1.2zM60.9 208.38h1.2v0.98h-1.2zM62.1 208.38h1.2v0.98h-1.2zM64.5 208.38h1.2v0.98h-1.2zM65.7 208.38h1.2v0.98h-1.2zM68.1 208.38h1.2v0.98h-1.2zM69.3 208.38h1.2v0.98h-1.2zM50.1 209.36h1.2v0.98h-1.2zM52.5 209.36h1.2v0.98h-1.2zM58.5 209.36h1.2v0.98h-1.2zM63.3 209.36h1.2v0.98h-1.2zM68.1 209.36h1.2v0.98h-1.2zM50.1 210.34h1.2v0.98h-1.2zM53.7 210.34h1.2v0.98h-1.2zM54.9 210.34h1.2v0.98h-1.2zM57.3 210.34h1.2v0.98h-1.2zM62.1 210.34h1.2v0.98h-1.2zM63.3 210.34h1.2v0.98h-1.2zM69.3 210.34h1.2v0.98h-1.2zM51.3 211.31h1.2v0.98h-1.2zM54.9 211.31h1.2v0.98h-1.2zM56.1 211.31h1.2v0.98h-1.2zM58.5 211.31h1.2v0.98h-1.2zM59.7 211.31h1.2v0.98h-1.2zM60.9 211.31h1.2v0.98h-1.2zM62.1 211.31h1.2v0.98h-1.2zM63.3 211.31h1.2v0.98h-1.2zM66.9 211.31h1.2v0.98h-1.2zM51.3 212.29h1.2v0.98h-1.2zM53.7 212.29h1.2v0.98h-1.2zM56.1 212.29h1.2v0.98h-1.2zM57.3 212.29h1.2v0.98h-1.2zM58.5 212.29h1.2v0.98h-1.2zM60.9 212.29h1.2v0.98h-1.2zM63.3 212.29h1.2v0.98h-1.2zM64.5 212.29h1.2v0.98h-1.2zM68.1 212.29h1.2v0.98h-1.2zM50.1 213.26h1.2v0.98h-1.2zM51.3 213.26h1.2v0.98h-1.2zM54.9 213.26h1.2v0.98h-1.2zM56.1 213.26h1.2v0.98h-1.2zM60.9 213.26h1.2v0.98h-1.2zM64.5 213.26h1.2v0.98h-1.2zM65.7 213.26h1.2v0.98h-1.2zM66.9 213.26h1.2v0.98h-1.2zM51.3 214.24h1.2v0.98h-1.2zM53.7 214.24h1.2v0.98h-1.2zM54.9 214.24h1.2v0.98h-1.2zM56.1 214.24h1.2v0.98h-1.2zM62.1 214.24h1.2v0.98h-1.2zM64.5 214.24h1.2v0.98h-1.2zM65.7 214.24h1.2v0.98h-1.2zM66.9 214.24h1.2v0.98h-1.2zM69.3 214.24h1.2v0.98h-1.2zM50.1 215.22h1.2v0.98h-1.2zM51.3 215.22h1.2v0.98h-1.2zM53.7 215.22h1.2v0.98h-1.2zM56.1 215.22h1.2v0.98h-1.2zM58.5 215.22h1.2v0.98h-1.2zM68.1 215.22h1.2v0.98h-1.2zM51.3 216.19h1.2v0.98h-1.2zM52.5 216.19h1.2v0.98h-1.2zM54.9 216.19h1.2v0.98h-1.2zM58.5 216.19h1.2v0.98h-1.2zM59.7 216.19h1.2v0.98h-1.2zM63.3 216.19h1.2v0.98h-1.2zM66.9 216.19h1.2v0.98h-1.2zM50.1 217.17h1.2v0.98h-1.2zM51.3 217.17h1.2v0.98h-1.2zM52.5 217.17h1.2v0.98h-1.2zM53.7 217.17h1.2v0.98h-1.2zM54.9 217.17h1.2v0.98h-1.2zM57.3 217.17h1.2v0.98h-1.2zM58.5 217.17h1.2v0.98h-1.2zM62.1 217.17h1.2v0.98h-1.2zM63.3 217.17h1.2v0.98h-1.2zM66.9 217.17h1.2v0.98h-1.2zM69.3 217.17h1.2v0.98h-1.2zM50.1 218.15h1.2v0.98h-1.2zM52.5 218.15h1.2v0.98h-1.2zM53.7 218.15h1.2v0.98h-1.2zM56.1 218.15h1.2v0.98h-1.2zM57.3 218.15h1.2v0.98h-1.2zM58.5 218.15h1.2v0.98h-1.2zM59.7 218.15h1.2v0.98h-1.2zM60.9 218.15h1.2v0.98h-1.2zM62.1 218.15h1.2v0.98h-1.2zM63.3 218.15h1.2v0.98h-1.2zM50.1 219.12h1.2v0.98h-1.2zM51.3 219.12h1.2v0.98h-1.2zM52.5 219.12h1.2v0.98h-1.2zM53.7 219.12h1.2v0.98h-1.2zM64.5 219.12h1.2v0.98h-1.2zM68.1 219.12h1.2v0.98h-1.2zM69.3 219.12h1.2v0.98h-1.2z" fill="#303030"/><circle cx="51.8" cy="222.8" r="1.25" fill="none" stroke="#eee" stroke-width="0.5"/><rect x="77.7" y="202.7" width="22.2" height="22.6" rx="0.8" fill="#111"/><rect x="78.6" y="203.5" width="20.4" height="16.6" fill="#ececec"/><path d="M78.6 203.5h1.2v0.98h-1.2zM79.8 203.5h1.2v0.98h-1.2zM81 203.5h1.2v0.98h-1.2zM82.2 203.5h1.2v0.98h-1.2zM87 203.5h1.2v0.98h-1.2zM88.2 203.5h1.2v0.98h-1.2zM89.4 203.5h1.2v0.98h-1.2zM90.6 203.5h1.2v0.98h-1.2zM91.8 203.5h1.2v0.98h-1.2zM93 203.5h1.2v0.98h-1.2zM94.2 203.5h1.2v0.98h-1.2zM95.4 203.5h1.2v0.98h-1.2zM96.6 203.5h1.2v0.98h-1.2zM97.8 203.5h1.2v0.98h-1.2zM78.6 204.48h1.2v0.98h-1.2zM81 204.48h1.2v0.98h-1.2zM84.6 204.48h1.2v0.98h-1.2zM85.8 204.48h1.2v0.98h-1.2zM88.2 204.48h1.2v0.98h-1.2zM89.4 204.48h1.2v0.98h-1.2zM90.6 204.48h1.2v0.98h-1.2zM95.4 204.48h1.2v0.98h-1.2zM97.8 204.48h1.2v0.98h-1.2zM78.6 205.45h1.2v0.98h-1.2zM79.8 205.45h1.2v0.98h-1.2zM81 205.45h1.2v0.98h-1.2zM87 205.45h1.2v0.98h-1.2zM88.2 205.45h1.2v0.98h-1.2zM89.4 205.45h1.2v0.98h-1.2zM90.6 205.45h1.2v0.98h-1.2zM91.8 205.45h1.2v0.98h-1.2zM93 205.45h1.2v0.98h-1.2zM94.2 205.45h1.2v0.98h-1.2zM95.4 205.45h1.2v0.98h-1.2zM96.6 205.45h1.2v0.98h-1.2zM97.8 205.45h1.2v0.98h-1.2zM78.6 206.43h1.2v0.98h-1.2zM79.8 206.43h1.2v0.98h-1.2zM84.6 206.43h1.2v0.98h-1.2zM87 206.43h1.2v0.98h-1.2zM88.2 206.43h1.2v0.98h-1.2zM96.6 206.43h1.2v0.98h-1.2zM97.8 206.43h1.2v0.98h-1.2zM78.6 207.41h1.2v0.98h-1.2zM79.8 207.41h1.2v0.98h-1.2zM81 207.41h1.2v0.98h-1.2zM84.6 207.41h1.2v0.98h-1.2zM87 207.41h1.2v0.98h-1.2zM89.4 207.41h1.2v0.98h-1.2zM90.6 207.41h1.2v0.98h-1.2zM91.8 207.41h1.2v0.98h-1.2zM94.2 207.41h1.2v0.98h-1.2zM97.8 207.41h1.2v0.98h-1.2zM78.6 208.38h1.2v0.98h-1.2zM81 208.38h1.2v0.98h-1.2zM82.2 208.38h1.2v0.98h-1.2zM83.4 208.38h1.2v0.98h-1.2zM84.6 208.38h1.2v0.98h-1.2zM88.2 208.38h1.2v0.98h-1.2zM89.4 208.38h1.2v0.98h-1.2zM90.6 208.38h1.2v0.98h-1.2zM96.6 208.38h1.2v0.98h-1.2zM81 209.36h1.2v0.98h-1.2zM83.4 209.36h1.2v0.98h-1.2zM84.6 209.36h1.2v0.98h-1.2zM85.8 209.36h1.2v0.98h-1.2zM89.4 209.36h1.2v0.98h-1.2zM90.6 209.36h1.2v0.98h-1.2zM91.8 209.36h1.2v0.98h-1.2zM95.4 209.36h1.2v0.98h-1.2zM78.6 210.34h1.2v0.98h-1.2zM84.6 210.34h1.2v0.98h-1.2zM85.8 210.34h1.2v0.98h-1.2zM87 210.34h1.2v0.98h-1.2zM91.8 210.34h1.2v0.98h-1.2zM93 210.34h1.2v0.98h-1.2zM96.6 210.34h1.2v0.98h-1.2zM97.8 210.34h1.2v0.98h-1.2zM78.6 211.31h1.2v0.98h-1.2zM82.2 211.31h1.2v0.98h-1.2zM83.4 211.31h1.2v0.98h-1.2zM85.8 211.31h1.2v0.98h-1.2zM88.2 211.31h1.2v0.98h-1.2zM89.4 211.31h1.2v0.98h-1.2zM93 211.31h1.2v0.98h-1.2zM94.2 211.31h1.2v0.98h-1.2zM97.8 211.31h1.2v0.98h-1.2zM78.6 212.29h1.2v0.98h-1.2zM79.8 212.29h1.2v0.98h-1.2zM81 212.29h1.2v0.98h-1.2zM82.2 212.29h1.2v0.98h-1.2zM84.6 212.29h1.2v0.98h-1.2zM85.8 212.29h1.2v0.98h-1.2zM87 212.29h1.2v0.98h-1.2zM89.4 212.29h1.2v0.98h-1.2zM93 212.29h1.2v0.98h-1.2zM94.2 212.29h1.2v0.98h-1.2zM96.6 212.29h1.2v0.98h-1.2zM97.8 212.29h1.2v0.98h-1.2zM81 213.26h1.2v0.98h-1.2zM84.6 213.26h1.2v0.98h-1.2zM85.8 213.26h1.2v0.98h-1.2zM87 213.26h1.2v0.98h-1.2zM88.2 213.26h1.2v0.98h-1.2zM89.4 213.26h1.2v0.98h-1.2zM94.2 213.26h1.2v0.98h-1.2zM95.4 213.26h1.2v0.98h-1.2zM96.6 213.26h1.2v0.98h-1.2zM78.6 214.24h1.2v0.98h-1.2zM79.8 214.24h1.2v0.98h-1.2zM81 214.24h1.2v0.98h-1.2zM82.2 214.24h1.2v0.98h-1.2zM83.4 214.24h1.2v0.98h-1.2zM84.6 214.24h1.2v0.98h-1.2zM87 214.24h1.2v0.98h-1.2zM90.6 214.24h1.2v0.98h-1.2zM97.8 214.24h1.2v0.98h-1.2zM78.6 215.22h1.2v0.98h-1.2zM79.8 215.22h1.2v0.98h-1.2zM81 215.22h1.2v0.98h-1.2zM82.2 215.22h1.2v0.98h-1.2zM83.4 215.22h1.2v0.98h-1.2zM85.8 215.22h1.2v0.98h-1.2zM88.2 215.22h1.2v0.98h-1.2zM89.4 215.22h1.2v0.98h-1.2zM95.4 215.22h1.2v0.98h-1.2zM96.6 215.22h1.2v0.98h-1.2zM82.2 216.19h1.2v0.98h-1.2zM84.6 216.19h1.2v0.98h-1.2zM87 216.19h1.2v0.98h-1.2zM89.4 216.19h1.2v0.98h-1.2zM90.6 216.19h1.2v0.98h-1.2zM94.2 216.19h1.2v0.98h-1.2zM95.4 216.19h1.2v0.98h-1.2zM97.8 216.19h1.2v0.98h-1.2zM78.6 217.17h1.2v0.98h-1.2zM79.8 217.17h1.2v0.98h-1.2zM81 217.17h1.2v0.98h-1.2zM85.8 217.17h1.2v0.98h-1.2zM88.2 217.17h1.2v0.98h-1.2zM89.4 217.17h1.2v0.98h-1.2zM91.8 217.17h1.2v0.98h-1.2zM93 217.17h1.2v0.98h-1.2zM95.4 217.17h1.2v0.98h-1.2zM96.6 217.17h1.2v0.98h-1.2zM78.6 218.15h1.2v0.98h-1.2zM81 218.15h1.2v0.98h-1.2zM82.2 218.15h1.2v0.98h-1.2zM87 218.15h1.2v0.98h-1.2zM88.2 218.15h1.2v0.98h-1.2zM95.4 218.15h1.2v0.98h-1.2zM97.8 218.15h1.2v0.98h-1.2zM78.6 219.12h1.2v0.98h-1.2zM79.8 219.12h1.2v0.98h-1.2zM81 219.12h1.2v0.98h-1.2zM82.2 219.12h1.2v0.98h-1.2zM83.4 219.12h1.2v0.98h-1.2zM85.8 219.12h1.2v0.98h-1.2zM89.4 219.12h1.2v0.98h-1.2zM91.8 219.12h1.2v0.98h-1.2zM93 219.12h1.2v0.98h-1.2zM96.6 219.12h1.2v0.98h-1.2zM97.8 219.12h1.2v0.98h-1.2z" fill="#303030"/><circle cx="80.3" cy="222.8" r="1.25" fill="none" stroke="#eee" stroke-width="0.5"/><g fill="none" stroke="#f2a14b" stroke-width="0.7" opacity="0.85"><path d="M6.9 240.1l2.6 -4.4l2.6 4.4zM9.5 240.1v2" fill="#f2a14b"/><circle cx="18.73" cy="238.5" r="2.6"/><path d="M17.53 238.5h2.4"/><path d="M25.95 241.5c2.5 -1 3.5 -4 3.2 -6.2"/><circle cx="26.75" cy="240.9" r="1.1"/><rect x="34.38" y="236.2" width="5.6" height="4.6" rx="0.6"/><path d="M43.61 236.2h5.6l-1 4.6h-3.6z" fill="#f6c088"/><circle cx="55.64" cy="238.5" r="2.7"/><circle cx="55.64" cy="238.5" r="1.1" fill="#f2a14b"/><path d="M62.26 240.1l2.6 -4.4l2.6 4.4zM64.86 240.1v2" fill="#f2a14b"/><circle cx="74.09" cy="238.5" r="2.6"/><path d="M72.89 238.5h2.4"/><path d="M81.32 241.5c2.5 -1 3.5 -4 3.2 -6.2"/><circle cx="82.12" cy="240.9" r="1.1"/><rect x="89.75" y="236.2" width="5.6" height="4.6" rx="0.6"/><path d="M98.97 236.2h5.6l-1 4.6h-3.6z" fill="#f6c088"/><circle cx="111" cy="238.5" r="2.7"/><circle cx="111" cy="238.5" r="1.1" fill="#f2a14b"/></g><g transform="translate(28.7 262) rotate(-28)"><ellipse rx="8.8" ry="7" fill="#9a9a9a" stroke="#707070" stroke-width="0.7"/><ellipse rx="6" ry="4.4" fill="none" stroke="#c9c9c9" stroke-width="0.7"/><path d="M-6 0h12M-4.5 -2.4h9M-4.5 2.4h9" stroke="#6a6a6a" stroke-width="0.6"/></g><text font-family="Liberation Sans, Arial, sans-serif" font-style="italic" font-size="3.6" font-weight="700" fill="#3b3b3b"><tspan x="43" y="256.6" textLength="53" lengthAdjust="spacingAndGlyphs">I nostri materassi vengono spediti</tspan><tspan x="43" y="260.95" textLength="44" lengthAdjust="spacingAndGlyphs">arrotolati sottovuoto: una</tspan><tspan x="43" y="265.3" textLength="50" lengthAdjust="spacingAndGlyphs">tecnica che garantisce igiene e</tspan><tspan x="43" y="269.65" textLength="47" lengthAdjust="spacingAndGlyphs">praticità nel trasporto. Dopo</tspan><tspan x="43" y="274" textLength="49" lengthAdjust="spacingAndGlyphs">l'apertura attendi qualche ora</tspan><tspan x="43" y="278.35" textLength="50" lengthAdjust="spacingAndGlyphs">affinché il materasso riprenda</tspan><tspan x="43" y="282.7" textLength="30" lengthAdjust="spacingAndGlyphs">la forma originale.</tspan></text><g transform="translate(33.2 297.6)"><circle r="7.2" fill="#ececec" stroke="#bcbcbc" stroke-width="0.8"/><path d="M-4 0h8M0 -4v8" stroke="#b3b3b3" stroke-width="2"/><circle r="5.2" fill="none" stroke="#d2d2d2" stroke-width="0.5"/></g><g transform="translate(55.8 297.2)"><circle r="7.4" fill="#6c6c6c" stroke="#4d4d4d" stroke-width="0.8"/><circle r="4.9" fill="#8f8f8f"/><circle r="2.6" fill="#5a5a5a"/><path d="M-3.4 1.2a3.6 3.6 0 0 1 6.8 0" fill="none" stroke="#d0d0d0" stroke-width="0.7"/></g><g transform="translate(78.3 296.6)"><circle r="7.1" fill="#f3f3f3" stroke="#6f6f6f" stroke-width="1.2"/><circle r="4.6" fill="none" stroke="#bdbdbd" stroke-width="0.6"/><text x="-2.6" y="1.4" font-family="Liberation Sans, Arial, sans-serif" font-size="3.6" fill="#9a9a9a">10</text></g></g>
<g fill="none" stroke="#0d0d0d" stroke-width="1.5" stroke-linejoin="round" stroke-linecap="round">
<polygon points="361.3,92.5 465.6,152.5 465.7,476.5 361.4,537 257.4,476.5 257.6,152.3"/>
<path d="M257.6 152.3L361.3 212.2L465.6 152.5M361.3 212.2L361.4 537M307.17 180.93L409.49 120.22"/>
</g></g>
<g id="box2">
<rect x="1229.4" y="314.8" width="60.3" height="123.4" fill="#faf9f8" stroke="#0d0d0d" stroke-width="1.5"/>
<polygon points="949.6,150.6 1229.4,314.8 1229.4,438.2 1122,500.2 842.5,336.2 842.5,212.2" fill="#faf9f8"/>
<g transform="matrix(0.866 0.5 -0.866 0.5 949.6 150.6)"><clipPath id="ic2"><path d="M13.6 21.9L43 21.9A25.8 25.8 0 0 1 68.8 47.5L69 69.6Q69.1 72.6 66.2 72.6L42 72.2A26 26 0 0 1 16 46.5L10.2 25.6Q9.5 21.9 13.6 21.9Z"/></clipPath><path d="M13.6 21.9L43 21.9A25.8 25.8 0 0 1 68.8 47.5L69 69.6Q69.1 72.6 66.2 72.6L42 72.2A26 26 0 0 1 16 46.5L10.2 25.6Q9.5 21.9 13.6 21.9Z" fill="#f6a637"/><path d="M-52.95 15L9.45 80M-43.7 15L18.7 80M-34.45 15L27.95 80M-25.2 15L37.2 80M-15.95 15L46.45 80M-6.7 15L55.7 80M2.55 15L64.95 80M11.8 15L74.2 80M21.05 15L83.45 80M30.3 15L92.7 80M39.55 15L101.95 80M48.8 15L111.2 80M58.05 15L120.45 80M67.3 15L129.7 80" stroke="#fdf8ef" stroke-width="2.7" fill="none" clip-path="url(#ic2)"/><g transform="translate(2.5 70.8) skewX(5.1)"><text y="0" font-family="Liberation Sans, Arial, sans-serif" font-weight="700" font-size="70.5" stroke-width="1.9" stroke-linejoin="round"><tspan x="69.8" textLength="67.6" lengthAdjust="spacingAndGlyphs" fill="#ee7d14" stroke="#ee7d14">m</tspan><tspan x="129.7" textLength="22.7" lengthAdjust="spacingAndGlyphs" fill="#ee7d14" stroke="#ee7d14">i</tspan><tspan x="148.7" textLength="31.2" lengthAdjust="spacingAndGlyphs" fill="#ee7d14" stroke="#ee7d14">a</tspan><tspan x="182.5" textLength="37.5" lengthAdjust="spacingAndGlyphs" fill="#f6a637" stroke="#f6a637">s</tspan><tspan x="215.9" textLength="38" lengthAdjust="spacingAndGlyphs" fill="#f6a637" stroke="#f6a637">u</tspan><tspan x="247.9" textLength="21.3" lengthAdjust="spacingAndGlyphs" fill="#f6a637" stroke="#f6a637">i</tspan><tspan x="266.7" textLength="15.4" lengthAdjust="spacingAndGlyphs" fill="#f6a637" stroke="#f6a637">t</tspan><tspan x="283.5" textLength="32.7" lengthAdjust="spacingAndGlyphs" fill="#f6a637" stroke="#f6a637">e</tspan></text></g><text x="308" y="31.5" font-family="Liberation Sans, sans-serif" font-size="8" fill="#f6a637">®</text><g transform="translate(96.3 100.3) skewX(4)"><text x="0" y="0" font-family="Liberation Sans, Arial, sans-serif" font-style="italic" font-size="17.3" fill="#161616" stroke="#161616" stroke-width="0.35" textLength="133" lengthAdjust="spacingAndGlyphs">il materasso online</text></g><g stroke-width="0.6" transform="translate(2.5 0.88)"><circle cx="12" cy="96" r="3.6" fill="#ededed" stroke="#bdbdbd"/><path d="M9.6 96h4.8M12 93.6v4.8" stroke="#9a9a9a" stroke-width="1"/><circle cx="23.5" cy="96" r="4" fill="#7d7d7d" stroke="#666"/><circle cx="23.5" cy="96" r="2" fill="#a5a5a5" stroke="none"/><circle cx="35" cy="96" r="3.7" fill="#f6f6f6" stroke="#8f8f8f" stroke-width="0.9"/><circle cx="35" cy="96" r="1.7" fill="none" stroke="#bbb" stroke-width="0.5"/><ellipse cx="46.5" cy="96" rx="4.6" ry="3.9" fill="#8d8d8d" stroke="#777"/></g></g>
<g transform="matrix(0 1 -0.944 -0.545 1135.6 383.95)"><path d="M20 39C14 34 9.5 30.5 10.5 26.5C11.5 22.8 16.5 22.6 19 26.2C21 22 27.8 20.6 30.2 24.2C32.6 28.4 26.5 34.5 20 39Z" fill="#ee7d14"/><text font-family="Liberation Sans, Arial, sans-serif" font-style="italic" font-size="4.1" font-weight="700" fill="#3c3c3c"><tspan x="37" y="26.8" textLength="73.5" lengthAdjust="spacingAndGlyphs">Grazie mille per la tua fiducia, adesso</tspan><tspan x="37" y="31.7" textLength="58" lengthAdjust="spacingAndGlyphs">fai anche tu parte della grande</tspan><tspan x="37" y="36.6" textLength="34" lengthAdjust="spacingAndGlyphs">famiglia miaSuite!</tspan></text><circle cx="93" cy="43.6" r="2.3" fill="#2b2b2b"/><text x="96.2" y="43" font-family="Liberation Sans, Arial, sans-serif" font-size="2.4" font-weight="700" fill="#2b2b2b">SHOP</text><text x="96.2" y="45.6" font-family="Liberation Sans, Arial, sans-serif" font-size="2.4" font-weight="700" fill="#2b2b2b">SICURO</text><rect x="90.5" y="48" width="18.5" height="17.5" fill="#ececec"/><path d="M90.5 48h1.23v1.17h-1.23zM91.73 48h1.23v1.17h-1.23zM92.97 48h1.23v1.17h-1.23zM94.2 48h1.23v1.17h-1.23zM95.43 48h1.23v1.17h-1.23zM97.9 48h1.23v1.17h-1.23zM99.13 48h1.23v1.17h-1.23zM102.83 48h1.23v1.17h-1.23zM104.07 48h1.23v1.17h-1.23zM105.3 48h1.23v1.17h-1.23zM106.53 48h1.23v1.17h-1.23zM107.77 48h1.23v1.17h-1.23zM90.5 49.17h1.23v1.17h-1.23zM92.97 49.17h1.23v1.17h-1.23zM96.67 49.17h1.23v1.17h-1.23zM97.9 49.17h1.23v1.17h-1.23zM100.37 49.17h1.23v1.17h-1.23zM101.6 49.17h1.23v1.17h-1.23zM102.83 49.17h1.23v1.17h-1.23zM104.07 49.17h1.23v1.17h-1.23zM105.3 49.17h1.23v1.17h-1.23zM107.77 49.17h1.23v1.17h-1.23zM90.5 50.33h1.23v1.17h-1.23zM91.73 50.33h1.23v1.17h-1.23zM92.97 50.33h1.23v1.17h-1.23zM95.43 50.33h1.23v1.17h-1.23zM96.67 50.33h1.23v1.17h-1.23zM102.83 50.33h1.23v1.17h-1.23zM104.07 50.33h1.23v1.17h-1.23zM105.3 50.33h1.23v1.17h-1.23zM106.53 50.33h1.23v1.17h-1.23zM107.77 50.33h1.23v1.17h-1.23zM90.5 51.5h1.23v1.17h-1.23zM92.97 51.5h1.23v1.17h-1.23zM96.67 51.5h1.23v1.17h-1.23zM97.9 51.5h1.23v1.17h-1.23zM100.37 51.5h1.23v1.17h-1.23zM102.83 51.5h1.23v1.17h-1.23zM104.07 51.5h1.23v1.17h-1.23zM107.77 51.5h1.23v1.17h-1.23zM90.5 52.67h1.23v1.17h-1.23zM91.73 52.67h1.23v1.17h-1.23zM95.43 52.67h1.23v1.17h-1.23zM96.67 52.67h1.23v1.17h-1.23zM97.9 52.67h1.23v1.17h-1.23zM99.13 52.67h1.23v1.17h-1.23zM101.6 52.67h1.23v1.17h-1.23zM104.07 52.67h1.23v1.17h-1.23zM105.3 52.67h1.23v1.17h-1.23zM107.77 52.67h1.23v1.17h-1.23zM91.73 53.83h1.23v1.17h-1.23zM92.97 53.83h1.23v1.17h-1.23zM94.2 53.83h1.23v1.17h-1.23zM95.43 53.83h1.23v1.17h-1.23zM99.13 53.83h1.23v1.17h-1.23zM101.6 53.83h1.23v1.17h-1.23zM102.83 53.83h1.23v1.17h-1.23zM106.53 53.83h1.23v1.17h-1.23zM90.5 55h1.23v1.17h-1.23zM91.73 55h1.23v1.17h-1.23zM94.2 55h1.23v1.17h-1.23zM95.43 55h1.23v1.17h-1.23zM96.67 55h1.23v1.17h-1.23zM97.9 55h1.23v1.17h-1.23zM100.37 55h1.23v1.17h-1.23zM102.83 55h1.23v1.17h-1.23zM104.07 55h1.23v1.17h-1.23zM106.53 55h1.23v1.17h-1.23zM91.73 56.17h1.23v1.17h-1.23zM92.97 56.17h1.23v1.17h-1.23zM96.67 56.17h1.23v1.17h-1.23zM97.9 56.17h1.23v1.17h-1.23zM101.6 56.17h1.23v1.17h-1.23zM106.53 56.17h1.23v1.17h-1.23zM107.77 56.17h1.23v1.17h-1.23zM90.5 57.33h1.23v1.17h-1.23zM92.97 57.33h1.23v1.17h-1.23zM95.43 57.33h1.23v1.17h-1.23zM99.13 57.33h1.23v1.17h-1.23zM100.37 57.33h1.23v1.17h-1.23zM102.83 57.33h1.23v1.17h-1.23zM104.07 57.33h1.23v1.17h-1.23zM90.5 58.5h1.23v1.17h-1.23zM92.97 58.5h1.23v1.17h-1.23zM94.2 58.5h1.23v1.17h-1.23zM95.43 58.5h1.23v1.17h-1.23zM96.67 58.5h1.23v1.17h-1.23zM97.9 58.5h1.23v1.17h-1.23zM99.13 58.5h1.23v1.17h-1.23zM100.37 58.5h1.23v1.17h-1.23zM102.83 58.5h1.23v1.17h-1.23zM104.07 58.5h1.23v1.17h-1.23zM92.97 59.67h1.23v1.17h-1.23zM94.2 59.67h1.23v1.17h-1.23zM95.43 59.67h1.23v1.17h-1.23zM100.37 59.67h1.23v1.17h-1.23zM102.83 59.67h1.23v1.17h-1.23zM105.3 59.67h1.23v1.17h-1.23zM107.77 59.67h1.23v1.17h-1.23zM99.13 60.83h1.23v1.17h-1.23zM104.07 60.83h1.23v1.17h-1.23zM90.5 62h1.23v1.17h-1.23zM91.73 62h1.23v1.17h-1.23zM92.97 62h1.23v1.17h-1.23zM95.43 62h1.23v1.17h-1.23zM101.6 62h1.23v1.17h-1.23zM105.3 62h1.23v1.17h-1.23zM107.77 62h1.23v1.17h-1.23zM90.5 63.17h1.23v1.17h-1.23zM92.97 63.17h1.23v1.17h-1.23zM94.2 63.17h1.23v1.17h-1.23zM95.43 63.17h1.23v1.17h-1.23zM97.9 63.17h1.23v1.17h-1.23zM101.6 63.17h1.23v1.17h-1.23zM102.83 63.17h1.23v1.17h-1.23zM104.07 63.17h1.23v1.17h-1.23zM106.53 63.17h1.23v1.17h-1.23zM107.77 63.17h1.23v1.17h-1.23zM90.5 64.33h1.23v1.17h-1.23zM91.73 64.33h1.23v1.17h-1.23zM92.97 64.33h1.23v1.17h-1.23zM95.43 64.33h1.23v1.17h-1.23zM97.9 64.33h1.23v1.17h-1.23zM99.13 64.33h1.23v1.17h-1.23zM104.07 64.33h1.23v1.17h-1.23zM106.53 64.33h1.23v1.17h-1.23zM107.77 64.33h1.23v1.17h-1.23z" fill="#303030"/><text x="8.5" y="56.2" font-family="Liberation Sans, Arial, sans-serif" font-weight="700" font-style="italic" font-size="4.6" fill="#222" textLength="67" lengthAdjust="spacingAndGlyphs">Abbiamo a cuore la tua opinione.</text><text x="8.5" y="62.6" font-family="Liberation Sans, Arial, sans-serif" font-style="italic" font-size="3.2" fill="#555" textLength="60" lengthAdjust="spacingAndGlyphs">Inquadra il QR code e lascia un feedback</text><g fill="none" stroke="#f2a14b" stroke-width="0.7" opacity="0.85"><path d="M6.9 82.1l2.6 -4.4l2.6 4.4zM9.5 82.1v2" fill="#f2a14b"/><circle cx="18.73" cy="80.5" r="2.6"/><path d="M17.53 80.5h2.4"/><path d="M25.95 83.5c2.5 -1 3.5 -4 3.2 -6.2"/><circle cx="26.75" cy="82.9" r="1.1"/><rect x="34.38" y="78.2" width="5.6" height="4.6" rx="0.6"/><path d="M43.61 78.2h5.6l-1 4.6h-3.6z" fill="#f6c088"/><circle cx="55.64" cy="80.5" r="2.7"/><circle cx="55.64" cy="80.5" r="1.1" fill="#f2a14b"/><path d="M62.26 82.1l2.6 -4.4l2.6 4.4zM64.86 82.1v2" fill="#f2a14b"/><circle cx="74.09" cy="80.5" r="2.6"/><path d="M72.89 80.5h2.4"/><path d="M81.32 83.5c2.5 -1 3.5 -4 3.2 -6.2"/><circle cx="82.12" cy="82.9" r="1.1"/><rect x="89.75" y="78.2" width="5.6" height="4.6" rx="0.6"/><path d="M98.97 78.2h5.6l-1 4.6h-3.6z" fill="#f6c088"/><circle cx="111" cy="80.5" r="2.7"/><circle cx="111" cy="80.5" r="1.1" fill="#f2a14b"/></g><path d="M20.8 97.2H99.2V109C99.2 114 96 117.1 91 117.1H20.8Z" fill="#0b0b0b"/><rect x="22" y="98.4" width="17" height="17.5" fill="#ececec"/><path d="M22 98.4h1.13v1.17h-1.13zM23.13 98.4h1.13v1.17h-1.13zM24.27 98.4h1.13v1.17h-1.13zM25.4 98.4h1.13v1.17h-1.13zM27.67 98.4h1.13v1.17h-1.13zM29.93 98.4h1.13v1.17h-1.13zM31.07 98.4h1.13v1.17h-1.13zM32.2 98.4h1.13v1.17h-1.13zM33.33 98.4h1.13v1.17h-1.13zM34.47 98.4h1.13v1.17h-1.13zM35.6 98.4h1.13v1.17h-1.13zM36.73 98.4h1.13v1.17h-1.13zM37.87 98.4h1.13v1.17h-1.13zM22 99.57h1.13v1.17h-1.13zM24.27 99.57h1.13v1.17h-1.13zM25.4 99.57h1.13v1.17h-1.13zM26.53 99.57h1.13v1.17h-1.13zM33.33 99.57h1.13v1.17h-1.13zM35.6 99.57h1.13v1.17h-1.13zM37.87 99.57h1.13v1.17h-1.13zM22 100.73h1.13v1.17h-1.13zM23.13 100.73h1.13v1.17h-1.13zM24.27 100.73h1.13v1.17h-1.13zM27.67 100.73h1.13v1.17h-1.13zM29.93 100.73h1.13v1.17h-1.13zM31.07 100.73h1.13v1.17h-1.13zM32.2 100.73h1.13v1.17h-1.13zM34.47 100.73h1.13v1.17h-1.13zM35.6 100.73h1.13v1.17h-1.13zM36.73 100.73h1.13v1.17h-1.13zM37.87 100.73h1.13v1.17h-1.13zM22 101.9h1.13v1.17h-1.13zM25.4 101.9h1.13v1.17h-1.13zM26.53 101.9h1.13v1.17h-1.13zM27.67 101.9h1.13v1.17h-1.13zM28.8 101.9h1.13v1.17h-1.13zM32.2 101.9h1.13v1.17h-1.13zM33.33 101.9h1.13v1.17h-1.13zM37.87 101.9h1.13v1.17h-1.13zM26.53 103.07h1.13v1.17h-1.13zM28.8 103.07h1.13v1.17h-1.13zM29.93 103.07h1.13v1.17h-1.13zM31.07 103.07h1.13v1.17h-1.13zM24.27 104.23h1.13v1.17h-1.13zM26.53 104.23h1.13v1.17h-1.13zM27.67 104.23h1.13v1.17h-1.13zM28.8 104.23h1.13v1.17h-1.13zM29.93 104.23h1.13v1.17h-1.13zM31.07 104.23h1.13v1.17h-1.13zM34.47 104.23h1.13v1.17h-1.13zM35.6 104.23h1.13v1.17h-1.13zM37.87 104.23h1.13v1.17h-1.13zM24.27 105.4h1.13v1.17h-1.13zM25.4 105.4h1.13v1.17h-1.13zM27.67 105.4h1.13v1.17h-1.13zM28.8 105.4h1.13v1.17h-1.13zM34.47 105.4h1.13v1.17h-1.13zM22 106.57h1.13v1.17h-1.13zM23.13 106.57h1.13v1.17h-1.13zM24.27 106.57h1.13v1.17h-1.13zM29.93 106.57h1.13v1.17h-1.13zM32.2 106.57h1.13v1.17h-1.13zM35.6 106.57h1.13v1.17h-1.13zM37.87 106.57h1.13v1.17h-1.13zM24.27 107.73h1.13v1.17h-1.13zM26.53 107.73h1.13v1.17h-1.13zM27.67 107.73h1.13v1.17h-1.13zM29.93 107.73h1.13v1.17h-1.13zM31.07 107.73h1.13v1.17h-1.13zM33.33 107.73h1.13v1.17h-1.13zM35.6 107.73h1.13v1.17h-1.13zM37.87 107.73h1.13v1.17h-1.13zM22 108.9h1.13v1.17h-1.13zM23.13 108.9h1.13v1.17h-1.13zM24.27 108.9h1.13v1.17h-1.13zM26.53 108.9h1.13v1.17h-1.13zM32.2 108.9h1.13v1.17h-1.13zM34.47 108.9h1.13v1.17h-1.13zM37.87 108.9h1.13v1.17h-1.13zM25.4 110.07h1.13v1.17h-1.13zM26.53 110.07h1.13v1.17h-1.13zM27.67 110.07h1.13v1.17h-1.13zM28.8 110.07h1.13v1.17h-1.13zM31.07 110.07h1.13v1.17h-1.13zM32.2 110.07h1.13v1.17h-1.13zM33.33 110.07h1.13v1.17h-1.13zM35.6 110.07h1.13v1.17h-1.13zM37.87 110.07h1.13v1.17h-1.13zM22 111.23h1.13v1.17h-1.13zM23.13 111.23h1.13v1.17h-1.13zM24.27 111.23h1.13v1.17h-1.13zM25.4 111.23h1.13v1.17h-1.13zM27.67 111.23h1.13v1.17h-1.13zM28.8 111.23h1.13v1.17h-1.13zM29.93 111.23h1.13v1.17h-1.13zM31.07 111.23h1.13v1.17h-1.13zM33.33 111.23h1.13v1.17h-1.13zM35.6 111.23h1.13v1.17h-1.13zM37.87 111.23h1.13v1.17h-1.13zM22 112.4h1.13v1.17h-1.13zM23.13 112.4h1.13v1.17h-1.13zM24.27 112.4h1.13v1.17h-1.13zM26.53 112.4h1.13v1.17h-1.13zM27.67 112.4h1.13v1.17h-1.13zM28.8 112.4h1.13v1.17h-1.13zM31.07 112.4h1.13v1.17h-1.13zM33.33 112.4h1.13v1.17h-1.13zM35.6 112.4h1.13v1.17h-1.13zM36.73 112.4h1.13v1.17h-1.13zM22 113.57h1.13v1.17h-1.13zM24.27 113.57h1.13v1.17h-1.13zM26.53 113.57h1.13v1.17h-1.13zM27.67 113.57h1.13v1.17h-1.13zM29.93 113.57h1.13v1.17h-1.13zM32.2 113.57h1.13v1.17h-1.13zM22 114.73h1.13v1.17h-1.13zM23.13 114.73h1.13v1.17h-1.13zM24.27 114.73h1.13v1.17h-1.13zM25.4 114.73h1.13v1.17h-1.13zM27.67 114.73h1.13v1.17h-1.13zM28.8 114.73h1.13v1.17h-1.13zM29.93 114.73h1.13v1.17h-1.13zM34.47 114.73h1.13v1.17h-1.13zM35.6 114.73h1.13v1.17h-1.13z" fill="#303030"/><rect x="44.5" y="102" width="6.2" height="5.6" rx="1.6" fill="#fff"/><path d="M45.5 106.5l3-4M47.2 107.2l3-4.4" stroke="#0b0b0b" stroke-width="0.6"/><text x="51.4" y="108" font-family="Liberation Sans, Arial, sans-serif" font-weight="700" font-style="italic" font-size="8.6" fill="#fff" textLength="40.5" lengthAdjust="spacingAndGlyphs">miasuite</text><text x="56" y="113.4" font-family="Liberation Sans, Arial, sans-serif" font-style="italic" font-size="3" fill="#d8d8d8" textLength="26" lengthAdjust="spacingAndGlyphs">www.miasuite.it</text><text x="36" y="134.2" font-family="Liberation Sans, Arial, sans-serif" font-weight="700" font-style="italic" font-size="5.1" fill="#222" textLength="48.5" lengthAdjust="spacingAndGlyphs">Hai bisogno di aiuto?</text><text x="50.3" y="139.8" font-family="Liberation Sans, Arial, sans-serif" font-style="italic" font-size="3.4" fill="#555" textLength="19" lengthAdjust="spacingAndGlyphs">contattaci</text><circle cx="38" cy="154.3" r="5.1" fill="#fdf3e6" stroke="#ee7d14" stroke-width="1.7"/><path d="M35.8 154.9a2.6 2.6 0 1 1 1.2 1.5l-1.6 .5z" fill="none" stroke="#ee7d14" stroke-width="0.8"/><text x="51" y="151.6" font-family="Liberation Sans, Arial, sans-serif" font-style="italic" font-size="2.6" fill="#777">whatsapp</text><text x="51" y="156.5" font-family="Liberation Sans, Arial, sans-serif" font-weight="700" font-style="italic" font-size="4.3" fill="#222" textLength="37" lengthAdjust="spacingAndGlyphs">+39 392 99 59 646</text><circle cx="38" cy="170.4" r="5.1" fill="#fdf3e6" stroke="#ee7d14" stroke-width="1.7"/><rect x="35.6" y="168.7" width="4.8" height="3.4" rx="0.5" fill="none" stroke="#ee7d14" stroke-width="0.8"/><path d="M35.8 169l2.2 1.7l2.2 -1.7" fill="none" stroke="#ee7d14" stroke-width="0.6"/><text x="51" y="167.7" font-family="Liberation Sans, Arial, sans-serif" font-style="italic" font-size="2.6" fill="#777">e-mail</text><text x="51" y="172.6" font-family="Liberation Sans, Arial, sans-serif" font-weight="700" font-style="italic" font-size="4.3" fill="#222" textLength="29.5" lengthAdjust="spacingAndGlyphs">info@miasuite.it</text><circle cx="38" cy="186" r="5.1" fill="#fdf3e6" stroke="#ee7d14" stroke-width="1.7"/><path d="M36.2 183.7c0 2.6 1.6 4 3.8 4.2l.4 -1.3l-1.3 -.7l-.7 .6c-.7 -.3 -1.2 -.9 -1.4 -1.6l.6 -.6l-.5 -1.3z" fill="#ee7d14"/><text x="51" y="183.3" font-family="Liberation Sans, Arial, sans-serif" font-style="italic" font-size="2.6" fill="#777">numero verde</text><text x="51" y="188.2" font-family="Liberation Sans, Arial, sans-serif" font-weight="700" font-style="italic" font-size="4.3" fill="#222" textLength="22" lengthAdjust="spacingAndGlyphs">800 135 930</text><rect x="20.4" y="202.7" width="22.2" height="22.6" rx="0.8" fill="#111"/><rect x="21.3" y="203.5" width="20.4" height="16.6" fill="#ececec"/><path d="M21.3 203.5h1.2v0.98h-1.2zM22.5 203.5h1.2v0.98h-1.2zM23.7 203.5h1.2v0.98h-1.2zM24.9 203.5h1.2v0.98h-1.2zM28.5 203.5h1.2v0.98h-1.2zM29.7 203.5h1.2v0.98h-1.2zM32.1 203.5h1.2v0.98h-1.2zM33.3 203.5h1.2v0.98h-1.2zM35.7 203.5h1.2v0.98h-1.2zM38.1 203.5h1.2v0.98h-1.2zM39.3 203.5h1.2v0.98h-1.2zM40.5 203.5h1.2v0.98h-1.2zM21.3 204.48h1.2v0.98h-1.2zM23.7 204.48h1.2v0.98h-1.2zM26.1 204.48h1.2v0.98h-1.2zM27.3 204.48h1.2v0.98h-1.2zM30.9 204.48h1.2v0.98h-1.2zM34.5 204.48h1.2v0.98h-1.2zM36.9 204.48h1.2v0.98h-1.2zM38.1 204.48h1.2v0.98h-1.2zM40.5 204.48h1.2v0.98h-1.2zM21.3 205.45h1.2v0.98h-1.2zM22.5 205.45h1.2v0.98h-1.2zM23.7 205.45h1.2v0.98h-1.2zM26.1 205.45h1.2v0.98h-1.2zM27.3 205.45h1.2v0.98h-1.2zM28.5 205.45h1.2v0.98h-1.2zM33.3 205.45h1.2v0.98h-1.2zM35.7 205.45h1.2v0.98h-1.2zM38.1 205.45h1.2v0.98h-1.2zM39.3 205.45h1.2v0.98h-1.2zM40.5 205.45h1.2v0.98h-1.2zM22.5 206.43h1.2v0.98h-1.2zM24.9 206.43h1.2v0.98h-1.2zM29.7 206.43h1.2v0.98h-1.2zM30.9 206.43h1.2v0.98h-1.2zM32.1 206.43h1.2v0.98h-1.2zM33.3 206.43h1.2v0.98h-1.2zM36.9 206.43h1.2v0.98h-1.2zM39.3 206.43h1.2v0.98h-1.2zM40.5 206.43h1.2v0.98h-1.2zM21.3 207.41h1.2v0.98h-1.2zM24.9 207.41h1.2v0.98h-1.2zM27.3 207.41h1.2v0.98h-1.2zM28.5 207.41h1.2v0.98h-1.2zM32.1 207.41h1.2v0.98h-1.2zM33.3 207.41h1.2v0.98h-1.2zM35.7 207.41h1.2v0.98h-1.2zM36.9 207.41h1.2v0.98h-1.2zM39.3 207.41h1.2v0.98h-1.2zM40.5 207.41h1.2v0.98h-1.2zM21.3 208.38h1.2v0.98h-1.2zM22.5 208.38h1.2v0.98h-1.2zM23.7 208.38h1.2v0.98h-1.2zM24.9 208.38h1.2v0.98h-1.2zM29.7 208.38h1.2v0.98h-1.2zM30.9 208.38h1.2v0.98h-1.2zM33.3 208.38h1.2v0.98h-1.2zM35.7 208.38h1.2v0.98h-1.2zM36.9 208.38h1.2v0.98h-1.2zM39.3 208.38h1.2v0.98h-1.2zM21.3 209.36h1.2v0.98h-1.2zM24.9 209.36h1.2v0.98h-1.2zM26.1 209.36h1.2v0.98h-1.2zM29.7 209.36h1.2v0.98h-1.2zM33.3 209.36h1.2v0.98h-1.2zM34.5 209.36h1.2v0.98h-1.2zM36.9 209.36h1.2v0.98h-1.2zM21.3 210.34h1.2v0.98h-1.2zM22.5 210.34h1.2v0.98h-1.2zM24.9 210.34h1.2v0.98h-1.2zM26.1 210.34h1.2v0.98h-1.2zM28.5 210.34h1.2v0.98h-1.2zM32.1 210.34h1.2v0.98h-1.2zM34.5 210.34h1.2v0.98h-1.2zM36.9 210.34h1.2v0.98h-1.2zM38.1 210.34h1.2v0.98h-1.2zM39.3 210.34h1.2v0.98h-1.2zM22.5 211.31h1.2v0.98h-1.2zM24.9 211.31h1.2v0.98h-1.2zM27.3 211.31h1.2v0.98h-1.2zM34.5 211.31h1.2v0.98h-1.2zM35.7 211.31h1.2v0.98h-1.2zM39.3 211.31h1.2v0.98h-1.2zM40.5 211.31h1.2v0.98h-1.2zM21.3 212.29h1.2v0.98h-1.2zM24.9 212.29h1.2v0.98h-1.2zM30.9 212.29h1.2v0.98h-1.2zM33.3 212.29h1.2v0.98h-1.2zM35.7 212.29h1.2v0.98h-1.2zM36.9 212.29h1.2v0.98h-1.2zM39.3 212.29h1.2v0.98h-1.2zM40.5 212.29h1.2v0.98h-1.2zM23.7 213.26h1.2v0.98h-1.2zM24.9 213.26h1.2v0.98h-1.2zM26.1 213.26h1.2v0.98h-1.2zM27.3 213.26h1.2v0.98h-1.2zM29.7 213.26h1.2v0.98h-1.2zM30.9 213.26h1.2v0.98h-1.2zM32.1 213.26h1.2v0.98h-1.2zM34.5 213.26h1.2v0.98h-1.2zM36.9 213.26h1.2v0.98h-1.2zM38.1 213.26h1.2v0.98h-1.2zM40.5 213.26h1.2v0.98h-1.2zM21.3 214.24h1.2v0.98h-1.2zM22.5 214.24h1.2v0.98h-1.2zM27.3 214.24h1.2v0.98h-1.2zM28.5 214.24h1.2v0.98h-1.2zM29.7 214.24h1.2v0.98h-1.2zM30.9 214.24h1.2v0.98h-1.2zM33.3 214.24h1.2v0.98h-1.2zM35.7 214.24h1.2v0.98h-1.2zM36.9 214.24h1.2v0.98h-1.2zM38.1 214.24h1.2v0.98h-1.2zM39.3 214.24h1.2v0.98h-1.2zM40.5 214.24h1.2v0.98h-1.2zM21.3 215.22h1.2v0.98h-1.2zM24.9 215.22h1.2v0.98h-1.2zM27.3 215.22h1.2v0.98h-1.2zM28.5 215.22h1.2v0.98h-1.2zM30.9 215.22h1.2v0.98h-1.2zM32.1 215.22h1.2v0.98h-1.2zM33.3 215.22h1.2v0.98h-1.2zM35.7 215.22h1.2v0.98h-1.2zM36.9 215.22h1.2v0.98h-1.2zM21.3 216.19h1.2v0.98h-1.2zM23.7 216.19h1.2v0.98h-1.2zM24.9 216.19h1.2v0.98h-1.2zM28.5 216.19h1.2v0.98h-1.2zM29.7 216.19h1.2v0.98h-1.2zM32.1 216.19h1.2v0.98h-1.2zM33.3 216.19h1.2v0.98h-1.2zM34.5 216.19h1.2v0.98h-1.2zM38.1 216.19h1.2v0.98h-1.2zM40.5 216.19h1.2v0.98h-1.2zM21.3 217.17h1.2v0.98h-1.2zM22.5 217.17h1.2v0.98h-1.2zM23.7 217.17h1.2v0.98h-1.2zM26.1 217.17h1.2v0.98h-1.2zM27.3 217.17h1.2v0.98h-1.2zM29.7 217.17h1.2v0.98h-1.2zM30.9 217.17h1.2v0.98h-1.2zM32.1 217.17h1.2v0.98h-1.2zM33.3 217.17h1.2v0.98h-1.2zM34.5 217.17h1.2v0.98h-1.2zM36.9 217.17h1.2v0.98h-1.2zM38.1 217.17h1.2v0.98h-1.2zM40.5 217.17h1.2v0.98h-1.2zM21.3 218.15h1.2v0.98h-1.2zM23.7 218.15h1.2v0.98h-1.2zM27.3 218.15h1.2v0.98h-1.2zM28.5 218.15h1.2v0.98h-1.2zM29.7 218.15h1.2v0.98h-1.2zM30.9 218.15h1.2v0.98h-1.2zM33.3 218.15h1.2v0.98h-1.2zM34.5 218.15h1.2v0.98h-1.2zM38.1 218.15h1.2v0.98h-1.2zM40.5 218.15h1.2v0.98h-1.2zM21.3 219.12h1.2v0.98h-1.2zM22.5 219.12h1.2v0.98h-1.2zM23.7 219.12h1.2v0.98h-1.2zM24.9 219.12h1.2v0.98h-1.2zM27.3 219.12h1.2v0.98h-1.2zM28.5 219.12h1.2v0.98h-1.2zM29.7 219.12h1.2v0.98h-1.2zM33.3 219.12h1.2v0.98h-1.2zM35.7 219.12h1.2v0.98h-1.2zM36.9 219.12h1.2v0.98h-1.2zM38.1 219.12h1.2v0.98h-1.2zM40.5 219.12h1.2v0.98h-1.2z" fill="#303030"/><circle cx="23" cy="222.8" r="1.25" fill="none" stroke="#eee" stroke-width="0.5"/><rect x="49.2" y="202.7" width="22.2" height="22.6" rx="0.8" fill="#111"/><rect x="50.1" y="203.5" width="20.4" height="16.6" fill="#ececec"/><path d="M50.1 203.5h1.2v0.98h-1.2zM51.3 203.5h1.2v0.98h-1.2zM52.5 203.5h1.2v0.98h-1.2zM58.5 203.5h1.2v0.98h-1.2zM65.7 203.5h1.2v0.98h-1.2zM66.9 203.5h1.2v0.98h-1.2zM68.1 203.5h1.2v0.98h-1.2zM69.3 203.5h1.2v0.98h-1.2zM50.1 204.48h1.2v0.98h-1.2zM52.5 204.48h1.2v0.98h-1.2zM53.7 204.48h1.2v0.98h-1.2zM56.1 204.48h1.2v0.98h-1.2zM59.7 204.48h1.2v0.98h-1.2zM63.3 204.48h1.2v0.98h-1.2zM65.7 204.48h1.2v0.98h-1.2zM66.9 204.48h1.2v0.98h-1.2zM69.3 204.48h1.2v0.98h-1.2zM50.1 205.45h1.2v0.98h-1.2zM51.3 205.45h1.2v0.98h-1.2zM52.5 205.45h1.2v0.98h-1.2zM54.9 205.45h1.2v0.98h-1.2zM58.5 205.45h1.2v0.98h-1.2zM59.7 205.45h1.2v0.98h-1.2zM62.1 205.45h1.2v0.98h-1.2zM64.5 205.45h1.2v0.98h-1.2zM65.7 205.45h1.2v0.98h-1.2zM66.9 205.45h1.2v0.98h-1.2zM68.1 205.45h1.2v0.98h-1.2zM69.3 205.45h1.2v0.98h-1.2zM51.3 206.43h1.2v0.98h-1.2zM57.3 206.43h1.2v0.98h-1.2zM58.5 206.43h1.2v0.98h-1.2zM59.7 206.43h1.2v0.98h-1.2zM60.9 206.43h1.2v0.98h-1.2zM65.7 206.43h1.2v0.98h-1.2zM68.1 206.43h1.2v0.98h-1.2zM53.7 207.41h1.2v0.98h-1.2zM57.3 207.41h1.2v0.98h-1.2zM58.5 207.41h1.2v0.98h-1.2zM62.1 207.41h1.2v0.98h-1.2zM63.3 207.41h1.2v0.98h-1.2zM65.7 207.41h1.2v0.98h-1.2zM66.9 207.41h1.2v0.98h-1.2zM69.3 207.41h1.2v0.98h-1.2zM51.3 208.38h1.2v0.98h-1.2zM53.7 208.38h1.2v0.98h-1.2zM58.5 208.38h1.2v0.98h-1.2zM59.7 208.38h1.2v0.98h-1.2zM60.9 208.38h1.2v0.98h-1.2zM62.1 208.38h1.2v0.98h-1.2zM64.5 208.38h1.2v0.98h-1.2zM65.7 208.38h1.2v0.98h-1.2zM68.1 208.38h1.2v0.98h-1.2zM69.3 208.38h1.2v0.98h-1.2zM50.1 209.36h1.2v0.98h-1.2zM52.5 209.36h1.2v0.98h-1.2zM58.5 209.36h1.2v0.98h-1.2zM63.3 209.36h1.2v0.98h-1.2zM68.1 209.36h1.2v0.98h-1.2zM50.1 210.34h1.2v0.98h-1.2zM53.7 210.34h1.2v0.98h-1.2zM54.9 210.34h1.2v0.98h-1.2zM57.3 210.34h1.2v0.98h-1.2zM62.1 210.34h1.2v0.98h-1.2zM63.3 210.34h1.2v0.98h-1.2zM69.3 210.34h1.2v0.98h-1.2zM51.3 211.31h1.2v0.98h-1.2zM54.9 211.31h1.2v0.98h-1.2zM56.1 211.31h1.2v0.98h-1.2zM58.5 211.31h1.2v0.98h-1.2zM59.7 211.31h1.2v0.98h-1.2zM60.9 211.31h1.2v0.98h-1.2zM62.1 211.31h1.2v0.98h-1.2zM63.3 211.31h1.2v0.98h-1.2zM66.9 211.31h1.2v0.98h-1.2zM51.3 212.29h1.2v0.98h-1.2zM53.7 212.29h1.2v0.98h-1.2zM56.1 212.29h1.2v0.98h-1.2zM57.3 212.29h1.2v0.98h-1.2zM58.5 212.29h1.2v0.98h-1.2zM60.9 212.29h1.2v0.98h-1.2zM63.3 212.29h1.2v0.98h-1.2zM64.5 212.29h1.2v0.98h-1.2zM68.1 212.29h1.2v0.98h-1.2zM50.1 213.26h1.2v0.98h-1.2zM51.3 213.26h1.2v0.98h-1.2zM54.9 213.26h1.2v0.98h-1.2zM56.1 213.26h1.2v0.98h-1.2zM60.9 213.26h1.2v0.98h-1.2zM64.5 213.26h1.2v0.98h-1.2zM65.7 213.26h1.2v0.98h-1.2zM66.9 213.26h1.2v0.98h-1.2zM51.3 214.24h1.2v0.98h-1.2zM53.7 214.24h1.2v0.98h-1.2zM54.9 214.24h1.2v0.98h-1.2zM56.1 214.24h1.2v0.98h-1.2zM62.1 214.24h1.2v0.98h-1.2zM64.5 214.24h1.2v0.98h-1.2zM65.7 214.24h1.2v0.98h-1.2zM66.9 214.24h1.2v0.98h-1.2zM69.3 214.24h1.2v0.98h-1.2zM50.1 215.22h1.2v0.98h-1.2zM51.3 215.22h1.2v0.98h-1.2zM53.7 215.22h1.2v0.98h-1.2zM56.1 215.22h1.2v0.98h-1.2zM58.5 215.22h1.2v0.98h-1.2zM68.1 215.22h1.2v0.98h-1.2zM51.3 216.19h1.2v0.98h-1.2zM52.5 216.19h1.2v0.98h-1.2zM54.9 216.19h1.2v0.98h-1.2zM58.5 216.19h1.2v0.98h-1.2zM59.7 216.19h1.2v0.98h-1.2zM63.3 216.19h1.2v0.98h-1.2zM66.9 216.19h1.2v0.98h-1.2zM50.1 217.17h1.2v0.98h-1.2zM51.3 217.17h1.2v0.98h-1.2zM52.5 217.17h1.2v0.98h-1.2zM53.7 217.17h1.2v0.98h-1.2zM54.9 217.17h1.2v0.98h-1.2zM57.3 217.17h1.2v0.98h-1.2zM58.5 217.17h1.2v0.98h-1.2zM62.1 217.17h1.2v0.98h-1.2zM63.3 217.17h1.2v0.98h-1.2zM66.9 217.17h1.2v0.98h-1.2zM69.3 217.17h1.2v0.98h-1.2zM50.1 218.15h1.2v0.98h-1.2zM52.5 218.15h1.2v0.98h-1.2zM53.7 218.15h1.2v0.98h-1.2zM56.1 218.15h1.2v0.98h-1.2zM57.3 218.15h1.2v0.98h-1.2zM58.5 218.15h1.2v0.98h-1.2zM59.7 218.15h1.2v0.98h-1.2zM60.9 218.15h1.2v0.98h-1.2zM62.1 218.15h1.2v0.98h-1.2zM63.3 218.15h1.2v0.98h-1.2zM50.1 219.12h1.2v0.98h-1.2zM51.3 219.12h1.2v0.98h-1.2zM52.5 219.12h1.2v0.98h-1.2zM53.7 219.12h1.2v0.98h-1.2zM64.5 219.12h1.2v0.98h-1.2zM68.1 219.12h1.2v0.98h-1.2zM69.3 219.12h1.2v0.98h-1.2z" fill="#303030"/><circle cx="51.8" cy="222.8" r="1.25" fill="none" stroke="#eee" stroke-width="0.5"/><rect x="77.7" y="202.7" width="22.2" height="22.6" rx="0.8" fill="#111"/><rect x="78.6" y="203.5" width="20.4" height="16.6" fill="#ececec"/><path d="M78.6 203.5h1.2v0.98h-1.2zM79.8 203.5h1.2v0.98h-1.2zM81 203.5h1.2v0.98h-1.2zM82.2 203.5h1.2v0.98h-1.2zM87 203.5h1.2v0.98h-1.2zM88.2 203.5h1.2v0.98h-1.2zM89.4 203.5h1.2v0.98h-1.2zM90.6 203.5h1.2v0.98h-1.2zM91.8 203.5h1.2v0.98h-1.2zM93 203.5h1.2v0.98h-1.2zM94.2 203.5h1.2v0.98h-1.2zM95.4 203.5h1.2v0.98h-1.2zM96.6 203.5h1.2v0.98h-1.2zM97.8 203.5h1.2v0.98h-1.2zM78.6 204.48h1.2v0.98h-1.2zM81 204.48h1.2v0.98h-1.2zM84.6 204.48h1.2v0.98h-1.2zM85.8 204.48h1.2v0.98h-1.2zM88.2 204.48h1.2v0.98h-1.2zM89.4 204.48h1.2v0.98h-1.2zM90.6 204.48h1.2v0.98h-1.2zM95.4 204.48h1.2v0.98h-1.2zM97.8 204.48h1.2v0.98h-1.2zM78.6 205.45h1.2v0.98h-1.2zM79.8 205.45h1.2v0.98h-1.2zM81 205.45h1.2v0.98h-1.2zM87 205.45h1.2v0.98h-1.2zM88.2 205.45h1.2v0.98h-1.2zM89.4 205.45h1.2v0.98h-1.2zM90.6 205.45h1.2v0.98h-1.2zM91.8 205.45h1.2v0.98h-1.2zM93 205.45h1.2v0.98h-1.2zM94.2 205.45h1.2v0.98h-1.2zM95.4 205.45h1.2v0.98h-1.2zM96.6 205.45h1.2v0.98h-1.2zM97.8 205.45h1.2v0.98h-1.2zM78.6 206.43h1.2v0.98h-1.2zM79.8 206.43h1.2v0.98h-1.2zM84.6 206.43h1.2v0.98h-1.2zM87 206.43h1.2v0.98h-1.2zM88.2 206.43h1.2v0.98h-1.2zM96.6 206.43h1.2v0.98h-1.2zM97.8 206.43h1.2v0.98h-1.2zM78.6 207.41h1.2v0.98h-1.2zM79.8 207.41h1.2v0.98h-1.2zM81 207.41h1.2v0.98h-1.2zM84.6 207.41h1.2v0.98h-1.2zM87 207.41h1.2v0.98h-1.2zM89.4 207.41h1.2v0.98h-1.2zM90.6 207.41h1.2v0.98h-1.2zM91.8 207.41h1.2v0.98h-1.2zM94.2 207.41h1.2v0.98h-1.2zM97.8 207.41h1.2v0.98h-1.2zM78.6 208.38h1.2v0.98h-1.2zM81 208.38h1.2v0.98h-1.2zM82.2 208.38h1.2v0.98h-1.2zM83.4 208.38h1.2v0.98h-1.2zM84.6 208.38h1.2v0.98h-1.2zM88.2 208.38h1.2v0.98h-1.2zM89.4 208.38h1.2v0.98h-1.2zM90.6 208.38h1.2v0.98h-1.2zM96.6 208.38h1.2v0.98h-1.2zM81 209.36h1.2v0.98h-1.2zM83.4 209.36h1.2v0.98h-1.2zM84.6 209.36h1.2v0.98h-1.2zM85.8 209.36h1.2v0.98h-1.2zM89.4 209.36h1.2v0.98h-1.2zM90.6 209.36h1.2v0.98h-1.2zM91.8 209.36h1.2v0.98h-1.2zM95.4 209.36h1.2v0.98h-1.2zM78.6 210.34h1.2v0.98h-1.2zM84.6 210.34h1.2v0.98h-1.2zM85.8 210.34h1.2v0.98h-1.2zM87 210.34h1.2v0.98h-1.2zM91.8 210.34h1.2v0.98h-1.2zM93 210.34h1.2v0.98h-1.2zM96.6 210.34h1.2v0.98h-1.2zM97.8 210.34h1.2v0.98h-1.2zM78.6 211.31h1.2v0.98h-1.2zM82.2 211.31h1.2v0.98h-1.2zM83.4 211.31h1.2v0.98h-1.2zM85.8 211.31h1.2v0.98h-1.2zM88.2 211.31h1.2v0.98h-1.2zM89.4 211.31h1.2v0.98h-1.2zM93 211.31h1.2v0.98h-1.2zM94.2 211.31h1.2v0.98h-1.2zM97.8 211.31h1.2v0.98h-1.2zM78.6 212.29h1.2v0.98h-1.2zM79.8 212.29h1.2v0.98h-1.2zM81 212.29h1.2v0.98h-1.2zM82.2 212.29h1.2v0.98h-1.2zM84.6 212.29h1.2v0.98h-1.2zM85.8 212.29h1.2v0.98h-1.2zM87 212.29h1.2v0.98h-1.2zM89.4 212.29h1.2v0.98h-1.2zM93 212.29h1.2v0.98h-1.2zM94.2 212.29h1.2v0.98h-1.2zM96.6 212.29h1.2v0.98h-1.2zM97.8 212.29h1.2v0.98h-1.2zM81 213.26h1.2v0.98h-1.2zM84.6 213.26h1.2v0.98h-1.2zM85.8 213.26h1.2v0.98h-1.2zM87 213.26h1.2v0.98h-1.2zM88.2 213.26h1.2v0.98h-1.2zM89.4 213.26h1.2v0.98h-1.2zM94.2 213.26h1.2v0.98h-1.2zM95.4 213.26h1.2v0.98h-1.2zM96.6 213.26h1.2v0.98h-1.2zM78.6 214.24h1.2v0.98h-1.2zM79.8 214.24h1.2v0.98h-1.2zM81 214.24h1.2v0.98h-1.2zM82.2 214.24h1.2v0.98h-1.2zM83.4 214.24h1.2v0.98h-1.2zM84.6 214.24h1.2v0.98h-1.2zM87 214.24h1.2v0.98h-1.2zM90.6 214.24h1.2v0.98h-1.2zM97.8 214.24h1.2v0.98h-1.2zM78.6 215.22h1.2v0.98h-1.2zM79.8 215.22h1.2v0.98h-1.2zM81 215.22h1.2v0.98h-1.2zM82.2 215.22h1.2v0.98h-1.2zM83.4 215.22h1.2v0.98h-1.2zM85.8 215.22h1.2v0.98h-1.2zM88.2 215.22h1.2v0.98h-1.2zM89.4 215.22h1.2v0.98h-1.2zM95.4 215.22h1.2v0.98h-1.2zM96.6 215.22h1.2v0.98h-1.2zM82.2 216.19h1.2v0.98h-1.2zM84.6 216.19h1.2v0.98h-1.2zM87 216.19h1.2v0.98h-1.2zM89.4 216.19h1.2v0.98h-1.2zM90.6 216.19h1.2v0.98h-1.2zM94.2 216.19h1.2v0.98h-1.2zM95.4 216.19h1.2v0.98h-1.2zM97.8 216.19h1.2v0.98h-1.2zM78.6 217.17h1.2v0.98h-1.2zM79.8 217.17h1.2v0.98h-1.2zM81 217.17h1.2v0.98h-1.2zM85.8 217.17h1.2v0.98h-1.2zM88.2 217.17h1.2v0.98h-1.2zM89.4 217.17h1.2v0.98h-1.2zM91.8 217.17h1.2v0.98h-1.2zM93 217.17h1.2v0.98h-1.2zM95.4 217.17h1.2v0.98h-1.2zM96.6 217.17h1.2v0.98h-1.2zM78.6 218.15h1.2v0.98h-1.2zM81 218.15h1.2v0.98h-1.2zM82.2 218.15h1.2v0.98h-1.2zM87 218.15h1.2v0.98h-1.2zM88.2 218.15h1.2v0.98h-1.2zM95.4 218.15h1.2v0.98h-1.2zM97.8 218.15h1.2v0.98h-1.2zM78.6 219.12h1.2v0.98h-1.2zM79.8 219.12h1.2v0.98h-1.2zM81 219.12h1.2v0.98h-1.2zM82.2 219.12h1.2v0.98h-1.2zM83.4 219.12h1.2v0.98h-1.2zM85.8 219.12h1.2v0.98h-1.2zM89.4 219.12h1.2v0.98h-1.2zM91.8 219.12h1.2v0.98h-1.2zM93 219.12h1.2v0.98h-1.2zM96.6 219.12h1.2v0.98h-1.2zM97.8 219.12h1.2v0.98h-1.2z" fill="#303030"/><circle cx="80.3" cy="222.8" r="1.25" fill="none" stroke="#eee" stroke-width="0.5"/><g fill="none" stroke="#f2a14b" stroke-width="0.7" opacity="0.85"><path d="M6.9 240.1l2.6 -4.4l2.6 4.4zM9.5 240.1v2" fill="#f2a14b"/><circle cx="18.73" cy="238.5" r="2.6"/><path d="M17.53 238.5h2.4"/><path d="M25.95 241.5c2.5 -1 3.5 -4 3.2 -6.2"/><circle cx="26.75" cy="240.9" r="1.1"/><rect x="34.38" y="236.2" width="5.6" height="4.6" rx="0.6"/><path d="M43.61 236.2h5.6l-1 4.6h-3.6z" fill="#f6c088"/><circle cx="55.64" cy="238.5" r="2.7"/><circle cx="55.64" cy="238.5" r="1.1" fill="#f2a14b"/><path d="M62.26 240.1l2.6 -4.4l2.6 4.4zM64.86 240.1v2" fill="#f2a14b"/><circle cx="74.09" cy="238.5" r="2.6"/><path d="M72.89 238.5h2.4"/><path d="M81.32 241.5c2.5 -1 3.5 -4 3.2 -6.2"/><circle cx="82.12" cy="240.9" r="1.1"/><rect x="89.75" y="236.2" width="5.6" height="4.6" rx="0.6"/><path d="M98.97 236.2h5.6l-1 4.6h-3.6z" fill="#f6c088"/><circle cx="111" cy="238.5" r="2.7"/><circle cx="111" cy="238.5" r="1.1" fill="#f2a14b"/></g><g transform="translate(28.7 262) rotate(-28)"><ellipse rx="8.8" ry="7" fill="#9a9a9a" stroke="#707070" stroke-width="0.7"/><ellipse rx="6" ry="4.4" fill="none" stroke="#c9c9c9" stroke-width="0.7"/><path d="M-6 0h12M-4.5 -2.4h9M-4.5 2.4h9" stroke="#6a6a6a" stroke-width="0.6"/></g><text font-family="Liberation Sans, Arial, sans-serif" font-style="italic" font-size="3.6" font-weight="700" fill="#3b3b3b"><tspan x="43" y="256.6" textLength="53" lengthAdjust="spacingAndGlyphs">I nostri materassi vengono spediti</tspan><tspan x="43" y="260.95" textLength="44" lengthAdjust="spacingAndGlyphs">arrotolati sottovuoto: una</tspan><tspan x="43" y="265.3" textLength="50" lengthAdjust="spacingAndGlyphs">tecnica che garantisce igiene e</tspan><tspan x="43" y="269.65" textLength="47" lengthAdjust="spacingAndGlyphs">praticità nel trasporto. Dopo</tspan><tspan x="43" y="274" textLength="49" lengthAdjust="spacingAndGlyphs">l'apertura attendi qualche ora</tspan><tspan x="43" y="278.35" textLength="50" lengthAdjust="spacingAndGlyphs">affinché il materasso riprenda</tspan><tspan x="43" y="282.7" textLength="30" lengthAdjust="spacingAndGlyphs">la forma originale.</tspan></text><g transform="translate(33.2 297.6)"><circle r="7.2" fill="#ececec" stroke="#bcbcbc" stroke-width="0.8"/><path d="M-4 0h8M0 -4v8" stroke="#b3b3b3" stroke-width="2"/><circle r="5.2" fill="none" stroke="#d2d2d2" stroke-width="0.5"/></g><g transform="translate(55.8 297.2)"><circle r="7.4" fill="#6c6c6c" stroke="#4d4d4d" stroke-width="0.8"/><circle r="4.9" fill="#8f8f8f"/><circle r="2.6" fill="#5a5a5a"/><path d="M-3.4 1.2a3.6 3.6 0 0 1 6.8 0" fill="none" stroke="#d0d0d0" stroke-width="0.7"/></g><g transform="translate(78.3 296.6)"><circle r="7.1" fill="#f3f3f3" stroke="#6f6f6f" stroke-width="1.2"/><circle r="4.6" fill="none" stroke="#bdbdbd" stroke-width="0.6"/><text x="-2.6" y="1.4" font-family="Liberation Sans, Arial, sans-serif" font-size="3.6" fill="#9a9a9a">10</text></g></g>
<g fill="none" stroke="#0d0d0d" stroke-width="1.5" stroke-linejoin="round" stroke-linecap="round">
<path d="M842.5 212.2L949.6 150.6L1229.4 314.8L1122 376.1L842.5 212.2L842.5 336.2L1122 500.2L1122 376.1"/>
<path d="M1229.4 314.8L1229.4 396.6M1122 500.2L1174.6 469.6"/>
</g>
<polygon points="1159.4,354.94 1275,421.68 1229.6,500.32 1122,438.19" fill="#faf9f8"/>
<path d="M1159.4 354.94L1275 421.68M1122 438.19L1229.6 500.32" fill="none" stroke="#0d0d0d" stroke-width="1.5" stroke-linecap="round"/>
<g transform="translate(1252.3 461) rotate(-60)" fill="#faf9f8" stroke="#0d0d0d" stroke-width="1.5">
<ellipse rx="45.4" ry="26.4"/>
<ellipse rx="41.54" ry="24.16"/>
<ellipse rx="32.01" ry="18.61"/>
<ellipse rx="23.84" ry="13.86"/>
<ellipse rx="15.66" ry="9.11"/>
<ellipse rx="7.94" ry="4.62"/>
</g>
<rect x="1061.5" y="376.1" width="60.5" height="124.1" fill="#faf9f8" stroke="#0d0d0d" stroke-width="1.5"/>
<g fill="none" stroke="#e60f0f" stroke-linecap="round" stroke-linejoin="round"><path d="M1099.9 458.9L1180.9 504.7" stroke-width="6.3"/><path d="M1173.7 487.6L1180.9 504.7L1157.5 509.2" stroke-width="5.98"/></g>
<g fill="none" stroke="#e60f0f" stroke-linecap="round" stroke-linejoin="round"><path d="M1255.5 363.5L1335.6 408.5" stroke-width="6.3"/><path d="M1329.3 392.3L1335.6 408.5L1312.2 413.9" stroke-width="5.98"/></g>
</g>
<g id="mat3" fill="none" stroke="#0d0d0d" stroke-width="1.8" stroke-linecap="round" stroke-linejoin="round">
<path d="M408.9 1155.8L300 1092.95C292.5 1088.62 267.18 1073.99 255 1066.95C242.82 1059.91 235.83 1056.04 226.9 1050.7C217.97 1045.36 208.78 1040.45 201.4 1034.9C194.02 1029.35 188.5 1023.47 182.6 1017.4C176.7 1011.33 170.8 1005.33 166 998.5C161.2 991.67 156.93 984.15 153.8 976.4C150.67 968.65 148.4 959.38 147.2 952C146 944.62 145.68 938.18 146.6 932.1C147.52 926.02 149.65 919.75 152.7 915.5C155.75 911.25 159.55 907.8 164.9 906.6C170.25 905.4 178.72 906.08 184.8 908.3C190.88 910.52 196.05 914.65 201.4 919.9C206.75 925.15 212.65 932.23 216.9 939.8C221.15 947.37 224.68 957.55 226.9 965.3C229.12 973.05 230.2 981.4 230.2 986.3C230.2 991.2 229.85 992.38 226.9 994.7C223.95 997.02 217.48 1000.3 212.5 1000.2C207.52 1000.1 201.98 997.7 197 994.1C192.02 990.5 186.47 984.13 182.6 978.6C178.73 973.07 175.65 966.07 173.8 960.9C171.95 955.73 171.32 951.48 171.5 947.6C171.68 943.72 172.87 939.72 174.9 937.6C176.93 935.48 180.38 934.53 183.7 934.9C187.02 935.27 191.1 936.95 194.8 939.8C198.5 942.65 203.13 948.48 205.9 952C208.67 955.52 210.3 957.85 211.4 960.9C212.5 963.95 212.32 968.73 212.5 970.3"/>
<path d="M203.7 1024.6C200.55 1022.1 190.72 1015.78 184.8 1009.6C178.88 1003.42 172.62 994.88 168.2 987.5C163.78 980.12 160.42 972.32 158.3 965.3C156.18 958.28 155.42 951.48 155.5 945.4C155.58 939.32 156.87 933.05 158.8 928.8C160.73 924.55 164.05 921.75 167.1 919.9C170.15 918.05 173.22 917.33 177.1 917.7C180.98 918.07 185.97 919.52 190.4 922.1C194.83 924.68 199.83 928.95 203.7 933.2C207.57 937.45 211.02 942.98 213.6 947.6C216.18 952.22 218 957.22 219.2 960.9C220.4 964.58 220.98 966.57 220.8 969.7C220.62 972.83 219.85 976.73 218.1 979.7C216.35 982.67 213.08 986.4 210.3 987.5C207.52 988.6 204.17 987.42 201.4 986.3C198.63 985.18 195.9 983.1 193.7 980.8C191.5 978.5 189.87 975.45 188.2 972.5C186.53 969.55 184.72 965.97 183.7 963.1C182.68 960.23 181.92 957.7 182.1 955.3C182.28 952.9 183.6 949.98 184.8 948.7C186 947.42 187.45 947.13 189.3 947.6C191.15 948.07 193.88 949.65 195.9 951.5C197.92 953.35 200.2 956.4 201.4 958.7C202.6 961 202.82 964.2 203.1 965.3"/>
<path d="M188.2 972.5L203.1 965.3L212.5 970.3L218.6 967.5"/>
<path d="M203.7 1024.6L408.9 1145.4L613.4 1026.1L406.4 907.3M408.9 1145.4V1155.8L613.4 1037.5V1026.1"/>
<path d="M395.3 897.2Q399 903 406.4 907.3L203.7 1024.6"/>
<path d="M164.9 906.6L361.6 791"/>
<path d="M361.6 791C363.72 790.27 369.23 786.42 374.3 786.6C379.37 786.78 385.73 788.03 392 792.1C398.27 796.17 405.98 803.8 411.9 811C417.82 818.2 423.62 827.37 427.5 835.3C431.38 843.23 434.28 852.87 435.2 858.6C436.12 864.33 434.48 866.38 433 869.7C431.52 873.02 427.42 877.03 426.3 878.5"/>
<path d="M426.3 878.5L226.9 994.7"/>
</g>
<path d="M412.78 945.75L435.82 959.05M412.78 959.05L435.82 945.75M367.78 971.4L390.82 984.7M367.78 984.7L390.82 971.4M322.78 997.05L345.82 1010.35M322.78 1010.35L345.82 997.05M277.78 1022.7L300.82 1036M277.78 1036L300.82 1022.7M465.58 977.35L488.62 990.65M465.58 990.65L488.62 977.35M420.58 1003L443.62 1016.3M420.58 1016.3L443.62 1003M375.58 1028.65L398.62 1041.95M375.58 1041.95L398.62 1028.65M330.58 1054.3L353.62 1067.6M330.58 1067.6L353.62 1054.3M518.38 1008.95L541.42 1022.25M518.38 1022.25L541.42 1008.95M473.38 1034.6L496.42 1047.9M473.38 1047.9L496.42 1034.6M428.38 1060.25L451.42 1073.55M428.38 1073.55L451.42 1060.25M383.38 1085.9L406.42 1099.2M383.38 1099.2L406.42 1085.9" fill="none" stroke="#262626" stroke-width="1.12"/>
<g fill="none" stroke="#e60f0f" stroke-linecap="round" stroke-linejoin="round"><path d="M235.6 931.9C234.07 927.07 230.42 911.33 226.4 902.9C222.38 894.47 217.03 886.83 211.5 881.3C205.97 875.77 199.87 872.32 193.2 869.7C186.53 867.08 175.12 866.28 171.5 865.6" stroke-width="7"/><path d="M183.3 857.2L171.5 865.6L184.1 876.3" stroke-width="6.3"/></g>
<g fill="none" stroke="#e60f0f" stroke-linecap="round" stroke-linejoin="round"><path d="M384.3 849.3C382.92 844.67 379.88 830.02 376 821.5C372.12 812.98 366.55 804.15 361 798.2C355.45 792.25 349.37 788.42 342.7 785.8C336.03 783.18 324.62 783.05 321 782.5" stroke-width="7"/><path d="M332.8 775L321 782.5L333.6 793.2" stroke-width="6.3"/></g>
<g id="mat4" fill="none" stroke="#0d0d0d" stroke-width="1.15" stroke-linejoin="round">
<path d="M850.3 972L1082.2 838.9L1281.4 953.1L1049.8 1087.3L850.3 972L850.3 1002.7L1049.8 1117.9L1281.4 984.1L1281.4 953.1"/>
<path d="M1049.8 1087.3V1117.9"/>
</g>
<path d="M1067.08 879.15L1090.12 892.45M1067.08 892.45L1090.12 879.15M1021.88 905.35L1044.92 918.65M1021.88 918.65L1044.92 905.35M976.78 930.55L999.82 943.85M976.78 943.85L999.82 930.55M932.48 956.25L955.52 969.55M932.48 969.55L955.52 956.25M1121.58 911.05L1144.62 924.35M1121.58 924.35L1144.62 911.05M1076.38 936.35L1099.42 949.65M1076.38 949.65L1099.42 936.35M1032.08 962.05L1055.12 975.35M1032.08 975.35L1055.12 962.05M987.38 987.65L1010.42 1000.95M987.38 1000.95L1010.42 987.65M1176.08 942.55L1199.12 955.85M1176.08 955.85L1199.12 942.55M1131.78 968.65L1154.82 981.95M1131.78 981.95L1154.82 968.65M1086.98 994.35L1110.02 1007.65M1086.98 1007.65L1110.02 994.35M1042.68 1019.55L1065.72 1032.85M1042.68 1032.85L1065.72 1019.55" fill="none" stroke="#262626" stroke-width="1.12"/>
<g fill="none" stroke="#e60f0f" stroke-linecap="round" stroke-linejoin="round"><path d="M880.7 989.4V900" stroke-width="7"/><path d="M868.4 914.5L880.7 900.2L894.3 915.5" stroke-width="5.6"/></g>
<g fill="none" stroke="#e60f0f" stroke-linecap="round" stroke-linejoin="round"><path d="M1249.5 989.4V900" stroke-width="7"/><path d="M1237.2 914.5L1249.5 900.2L1263.1 915.5" stroke-width="5.6"/></g>
</svg>
</body>
</html>
